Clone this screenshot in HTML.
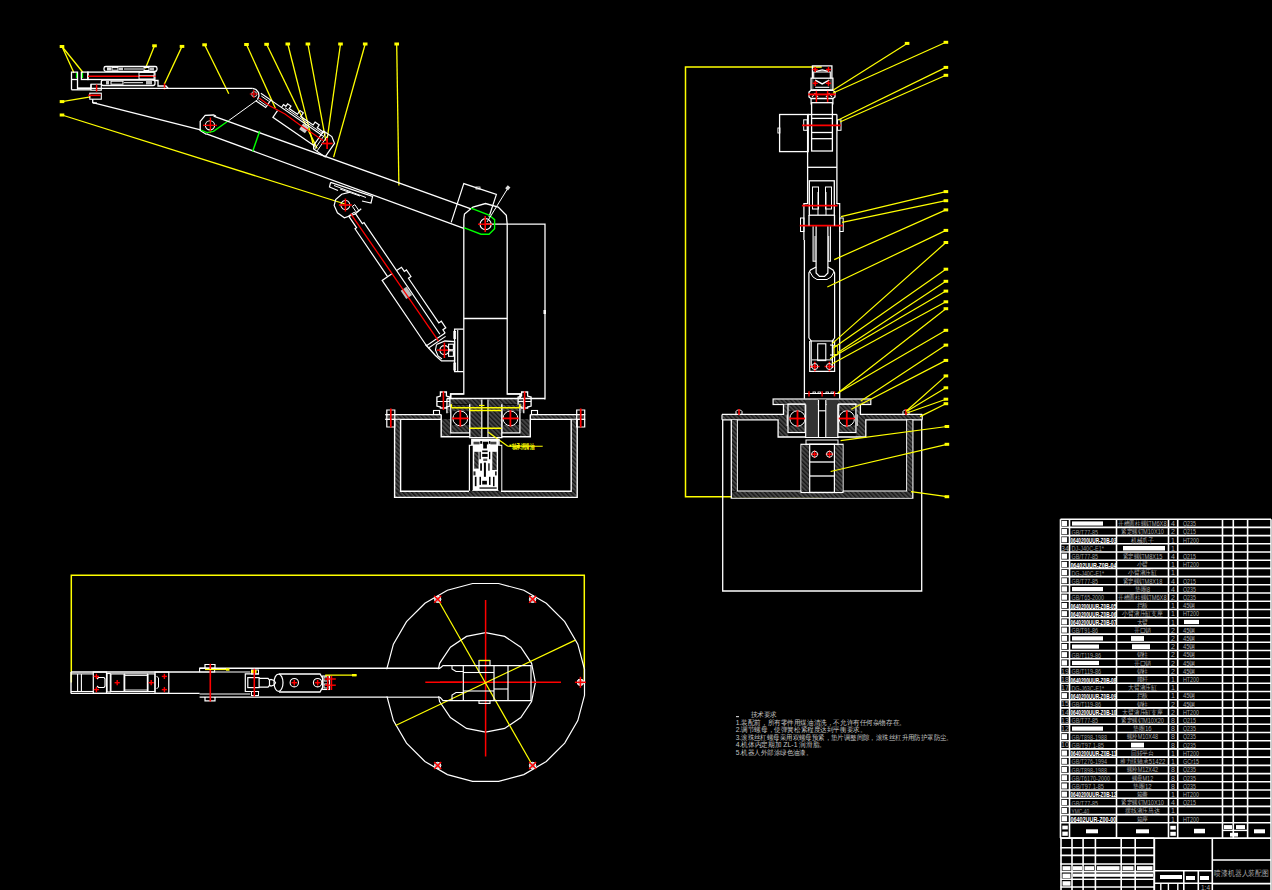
<!DOCTYPE html>
<html><head><meta charset="utf-8"><style>
html,body{margin:0;padding:0;background:#000;width:1272px;height:890px;overflow:hidden}
svg{display:block}
text{font-family:"Liberation Sans",sans-serif}
</style></head><body>
<svg width="1272" height="890" viewBox="0 0 1272 890" shape-rendering="geometricPrecision">
<defs><pattern id="hatch" patternUnits="userSpaceOnUse" width="3.2" height="3.2" patternTransform="rotate(-45)"><rect width="3.2" height="3.2" fill="#454545"/><rect width="1.3" height="3.2" fill="#161616"/></pattern></defs>
<rect width="1272" height="890" fill="#000"/>
<rect x="59.7" y="45.0" width="4.6" height="3.0" fill="#ffff00"/>
<rect x="152.2" y="44.3" width="4.6" height="3.0" fill="#ffff00"/>
<rect x="179.7" y="44.9" width="4.6" height="3.0" fill="#ffff00"/>
<rect x="202.3" y="43.3" width="4.6" height="3.0" fill="#ffff00"/>
<rect x="244.2" y="43.0" width="4.6" height="3.0" fill="#ffff00"/>
<rect x="264.3" y="42.8" width="4.6" height="3.0" fill="#ffff00"/>
<rect x="285.5" y="42.5" width="4.6" height="3.0" fill="#ffff00"/>
<rect x="305.6" y="42.5" width="4.6" height="3.0" fill="#ffff00"/>
<rect x="338.2" y="42.5" width="4.6" height="3.0" fill="#ffff00"/>
<rect x="362.9" y="42.5" width="4.6" height="3.0" fill="#ffff00"/>
<rect x="394.4" y="42.5" width="4.6" height="3.0" fill="#ffff00"/>
<line x1="62.0" y1="46.5" x2="74.0" y2="73.0" stroke="#ffff00" stroke-width="1.3"/>
<line x1="62.0" y1="46.5" x2="83.0" y2="72.5" stroke="#ffff00" stroke-width="1.3"/>
<line x1="154.5" y1="45.8" x2="145.4" y2="68.5" stroke="#ffff00" stroke-width="1.3"/>
<line x1="182.0" y1="46.4" x2="164.3" y2="84.3" stroke="#ffff00" stroke-width="1.3"/>
<line x1="204.6" y1="44.8" x2="228.8" y2="93.7" stroke="#ffff00" stroke-width="1.3"/>
<line x1="246.5" y1="44.5" x2="275.4" y2="108.3" stroke="#ffff00" stroke-width="1.3"/>
<line x1="266.6" y1="44.3" x2="317.1" y2="148.4" stroke="#ffff00" stroke-width="1.3"/>
<line x1="287.8" y1="44.0" x2="314.0" y2="147.7" stroke="#ffff00" stroke-width="1.3"/>
<line x1="307.9" y1="44.0" x2="325.8" y2="140.6" stroke="#ffff00" stroke-width="1.3"/>
<line x1="340.5" y1="44.0" x2="327.3" y2="138.2" stroke="#ffff00" stroke-width="1.3"/>
<line x1="365.2" y1="44.0" x2="333.6" y2="157.1" stroke="#ffff00" stroke-width="1.3"/>
<line x1="396.7" y1="44.0" x2="398.9" y2="185.4" stroke="#ffff00" stroke-width="1.3"/>
<line x1="62.0" y1="101.6" x2="90.4" y2="96.9" stroke="#ffff00" stroke-width="1.3"/>
<line x1="62.0" y1="115.0" x2="345.0" y2="204.0" stroke="#ffff00" stroke-width="1.3"/>
<rect x="59.7" y="100.1" width="4.6" height="3.0" fill="#ffff00"/>
<rect x="59.7" y="113.5" width="4.6" height="3.0" fill="#ffff00"/>
<polyline points="71.5,89.8 71.5,72.1 77.5,72.1 77.5,89.8" fill="none" stroke="#ffffff" stroke-width="1.3"/>
<line x1="71.5" y1="79.5" x2="77.5" y2="79.5" stroke="#ffffff" stroke-width="1.3"/>
<polyline points="77.5,88.2 91.0,88.2 91.0,84.2" fill="none" stroke="#ffffff" stroke-width="1.3"/>
<polyline points="71.5,89.8 91.0,89.8" fill="none" stroke="#ffffff" stroke-width="1.3"/>
<rect x="81.4" y="72.1" width="6.5" height="7.4" fill="none" stroke="#ffffff" stroke-width="1.3"/>
<line x1="76.5" y1="73.0" x2="76.5" y2="78.0" stroke="#00ff00" stroke-width="1.2"/>
<line x1="82.5" y1="73.0" x2="82.5" y2="78.0" stroke="#00ff00" stroke-width="1.2"/>
<rect x="87.9" y="72.1" width="67.0" height="7.4" fill="none" stroke="#ffffff" stroke-width="1.3"/>
<line x1="88.0" y1="76.3" x2="155.8" y2="76.3" stroke="#ff0000" stroke-width="1.6"/>
<rect x="104" y="66.5" width="53" height="4.8" rx="1.8" fill="none" stroke="#fff" stroke-width="1.3"/>
<rect x="107.0" y="67.3" width="4.0" height="3.2" fill="#ddd" stroke="#ffffff" stroke-width="0"/>
<rect x="112.0" y="67.6" width="6.0" height="2.6" fill="none" stroke="#ffffff" stroke-width="1.0"/>
<rect x="119.0" y="67.6" width="4.0" height="2.6" fill="#ccc" stroke="#ffffff" stroke-width="0"/>
<line x1="124.0" y1="69.0" x2="143.0" y2="69.0" stroke="#ffffff" stroke-width="1.0"/>
<rect x="144.0" y="67.5" width="5.0" height="3.0" fill="none" stroke="#ffffff" stroke-width="1.0"/>
<rect x="150.0" y="67.5" width="4.0" height="3.0" fill="#bbb" stroke="#ffffff" stroke-width="0"/>
<rect x="101.3" y="80" width="53.7" height="5.5" rx="2" fill="none" stroke="#fff" stroke-width="1.3"/>
<rect x="106.0" y="81.0" width="3.0" height="3.5" fill="#ccc" stroke="#ffffff" stroke-width="0"/>
<rect x="111.0" y="81.2" width="12.0" height="3.0" fill="none" stroke="#ffffff" stroke-width="1.0"/>
<line x1="124.0" y1="82.7" x2="143.0" y2="82.7" stroke="#ffffff" stroke-width="1.0"/>
<rect x="146.0" y="81.0" width="6.0" height="3.5" fill="#bbb" stroke="#ffffff" stroke-width="0"/>
<line x1="155.0" y1="71.2" x2="156.7" y2="71.2" stroke="#ffffff" stroke-width="1.0"/>
<rect x="139.0" y="72.5" width="15.0" height="6.5" fill="none" stroke="#ffffff" stroke-width="0.9"/>
<line x1="139.0" y1="75.5" x2="154.0" y2="75.5" stroke="#ffffff" stroke-width="0.6"/>
<polyline points="155.0,80.5 158.0,80.5 158.0,86.0 166.0,86.0 168.0,88.3" fill="none" stroke="#ffffff" stroke-width="1.3"/>
<line x1="164.5" y1="83.5" x2="164.5" y2="89.5" stroke="#ff0000" stroke-width="1.5"/>
<line x1="77.5" y1="88.3" x2="252.6" y2="88.3" stroke="#ffffff" stroke-width="1.3"/>
<rect x="91.0" y="84.2" width="10.3" height="6.0" fill="none" stroke="#ffffff" stroke-width="1.1"/>
<rect x="89.8" y="93.2" width="11.5" height="6.0" fill="none" stroke="#ffffff" stroke-width="1.1"/>
<line x1="96.6" y1="84.5" x2="96.6" y2="91.6" stroke="#ff0000" stroke-width="1.5"/>
<line x1="88.3" y1="95.3" x2="100.5" y2="95.3" stroke="#ff0000" stroke-width="1.6"/>
<line x1="92.7" y1="99.2" x2="92.7" y2="103.0" stroke="#ffffff" stroke-width="1.3"/>
<line x1="92.7" y1="103.0" x2="97.0" y2="103.0" stroke="#ffffff" stroke-width="1.3"/>
<line x1="92.7" y1="102.6" x2="200.5" y2="129.9" stroke="#ffffff" stroke-width="1.3"/>
<polyline points="252.6,88.3 256.0,89.5 258.5,92.5 259.0,96.0 257.5,99.5" fill="none" stroke="#ffffff" stroke-width="1.3"/>
<circle cx="254.2" cy="94.2" r="2.6" fill="none" stroke="#ffffff" stroke-width="0.8"/>
<polyline points="200.2,131.0 200.2,121.4 205.2,115.3 213.5,115.0 216.0,116.0" fill="none" stroke="#ffffff" stroke-width="1.3"/>
<line x1="200.2" y1="130.5" x2="206.5" y2="134.5" stroke="#ffffff" stroke-width="1.2"/>
<circle cx="210.0" cy="125.3" r="4.6" fill="none" stroke="#ffffff" stroke-width="1.1"/>
<line x1="203.0" y1="125.3" x2="217.0" y2="125.3" stroke="#ff0000" stroke-width="1.3"/>
<line x1="210.4" y1="117.5" x2="210.4" y2="133.0" stroke="#ff0000" stroke-width="1.4"/>
<polyline points="201.0,130.2 207.0,132.6 213.5,131.4 228.8,120.5" fill="none" stroke="#00ff00" stroke-width="1.4"/>
<line x1="228.8" y1="120.5" x2="257.5" y2="99.8" stroke="#ffffff" stroke-width="1.0"/>
<line x1="213.6" y1="116.2" x2="471.0" y2="208.9" stroke="#ffffff" stroke-width="1.3"/>
<line x1="206.5" y1="133.9" x2="463.8" y2="228.3" stroke="#ffffff" stroke-width="1.3"/>
<line x1="259.7" y1="131.0" x2="252.6" y2="151.6" stroke="#00ff00" stroke-width="1.4"/>
<g transform="translate(254.2,94.2) rotate(34.5)">
<polyline points="5.0,-4.5 17.0,-4.5 17.0,4.5 5.0,4.5" fill="none" stroke="#ffffff" stroke-width="1.2"/>
<line x1="7.0" y1="-2.5" x2="16.0" y2="-2.5" stroke="#ffffff" stroke-width="0.9"/>
<line x1="7.0" y1="2.5" x2="16.0" y2="2.5" stroke="#ffffff" stroke-width="0.9"/>
<line x1="17.0" y1="-4.5" x2="80.0" y2="-4.5" stroke="#ffffff" stroke-width="1.2"/>
<polyline points="28.5,0.3 28.5,8.5 80.0,8.5" fill="none" stroke="#ffffff" stroke-width="1.2"/>
<polyline points="30.0,-4.5 30.0,-8.0 33.0,-8.0 33.0,-11.0 37.0,-11.0 37.0,-8.0 47.0,-8.0 47.0,-12.5 51.0,-12.5 51.0,-8.0 66.0,-8.0 66.0,-11.5 71.0,-11.5 71.0,-8.0 80.0,-8.0" fill="none" stroke="#ffffff" stroke-width="1.2"/>
<line x1="33.0" y1="-6.3" x2="79.0" y2="-6.3" stroke="#ffffff" stroke-width="0.9"/>
<polygon points="78.0,-9.0 88.0,-9.0 94.0,-5.0 94.0,11.5 80.0,11.5 78.0,8.5" fill="none" stroke="#ffffff" stroke-width="1.2"/>
<line x1="81.0" y1="-8.0" x2="81.0" y2="11.0" stroke="#ffffff" stroke-width="0.9"/>
<line x1="84.0" y1="-8.0" x2="84.0" y2="11.0" stroke="#ffffff" stroke-width="0.9"/>
<rect x="57.0" y="-3.5" width="7.0" height="7.0" fill="#ccc" stroke="#ffffff" stroke-width="0"/>
</g>
<polyline points="259.2,98.0 270.0,106.0 285.0,114.0 300.0,125.0 312.0,133.0 323.5,140.8" fill="none" stroke="#ff0000" stroke-width="1.2"/>
<line x1="321.6" y1="143.5" x2="332.6" y2="143.5" stroke="#ff0000" stroke-width="1.7"/>
<line x1="327.1" y1="138.0" x2="327.1" y2="149.0" stroke="#ff0000" stroke-width="1.7"/>
<line x1="249.8" y1="94.0" x2="257.8" y2="94.0" stroke="#ff0000" stroke-width="1.1"/>
<line x1="253.8" y1="90.0" x2="253.8" y2="98.0" stroke="#ff0000" stroke-width="1.1"/>
<g transform="translate(345.4,205) rotate(55.8)">
<polyline points="-8.0,-11.0 -11.0,-3.0 -10.0,5.0 -6.0,9.5 2.0,11.0 10.0,8.0 13.0,-3.0 12.0,-11.0" fill="none" stroke="#ffffff" stroke-width="1.2"/>
<circle cx="0.0" cy="0.0" r="4.5" fill="none" stroke="#ffffff" stroke-width="1.0"/>
<rect x="5.0" y="-8.0" width="7.0" height="3.0" fill="none" stroke="#ffffff" stroke-width="0.9"/>
<polyline points="11.0,3.5 25.0,3.5 25.0,5.4 83.0,5.4" fill="none" stroke="#ffffff" stroke-width="1.2"/>
<polyline points="11.0,-3.5 25.0,-3.5 25.0,-5.5 160.0,-5.5" fill="none" stroke="#ffffff" stroke-width="1.2"/>
<line x1="11.0" y1="-3.5" x2="11.0" y2="3.5" stroke="#ffffff" stroke-width="1.1"/>
<polyline points="83.0,-0.3 83.0,12.0 162.0,12.0 162.0,-10.5" fill="none" stroke="#ffffff" stroke-width="1.2"/>
<polyline points="83.0,-5.5 83.0,-11.4 88.0,-11.4 88.0,-14.0 96.0,-14.0 96.0,-11.0 150.0,-11.0 150.0,-14.0 158.0,-14.0 158.0,-10.5 162.0,-10.5" fill="none" stroke="#ffffff" stroke-width="1.2"/>
<line x1="165.0" y1="12.0" x2="165.0" y2="-9.0" stroke="#ffffff" stroke-width="1.1"/>
<rect x="102.0" y="-4.5" width="10.0" height="7.0" fill="#bbb" stroke="#ffffff" stroke-width="0"/>
<line x1="10.0" y1="0.5" x2="165.0" y2="-0.5" stroke="#ff0000" stroke-width="1.3"/>
</g>
<line x1="338.9" y1="205.0" x2="351.9" y2="205.0" stroke="#ff0000" stroke-width="1.6"/>
<line x1="345.4" y1="198.5" x2="345.4" y2="211.5" stroke="#ff0000" stroke-width="1.6"/>
<polyline points="330.6,182.4 372.6,196.4 371.0,203.0 362.0,201.0" fill="none" stroke="#ffffff" stroke-width="1.2"/>
<polyline points="330.6,182.4 329.5,187.0 338.0,190.5" fill="none" stroke="#ffffff" stroke-width="1.2"/>
<line x1="334.0" y1="185.5" x2="366.0" y2="197.5" stroke="#ffffff" stroke-width="1.0"/>
<line x1="340.0" y1="189.0" x2="360.0" y2="196.0" stroke="#ffffff" stroke-width="1.0"/>
<polyline points="425.5,344.5 435.2,355.3 441.4,360.9 454.6,360.9 454.6,341.5 444.9,341.0 436.5,344.5" fill="none" stroke="#ffffff" stroke-width="1.3"/>
<polyline points="436.5,344.5 435.5,350.0 438.0,356.0 442.0,359.0" fill="none" stroke="#ffffff" stroke-width="1.1"/>
<circle cx="444.4" cy="350.1" r="4.5" fill="none" stroke="#ffffff" stroke-width="1.2"/>
<line x1="437.0" y1="350.1" x2="451.0" y2="350.1" stroke="#ff0000" stroke-width="1.5"/>
<line x1="444.4" y1="342.5" x2="444.4" y2="358.0" stroke="#ff0000" stroke-width="1.6"/>
<rect x="448.6" y="344.2" width="4.8" height="5.5" fill="none" stroke="#ffffff" stroke-width="1.1"/>
<rect x="448.6" y="350.8" width="4.8" height="5.5" fill="none" stroke="#ffffff" stroke-width="1.1"/>
<polyline points="463.5,329.2 454.6,329.2 454.6,371.6 463.5,371.6" fill="none" stroke="#ffffff" stroke-width="1.3"/>
<line x1="457.7" y1="330.0" x2="457.7" y2="371.0" stroke="#ffffff" stroke-width="1.1"/>
<rect x="453.8" y="331.5" width="1.8" height="7.0" fill="none" stroke="#ffffff" stroke-width="0.9"/>
<rect x="453.8" y="363.0" width="1.8" height="7.0" fill="none" stroke="#ffffff" stroke-width="0.9"/>
<polyline points="463.8,218.8 464.5,214.0 472.9,207.0 485.5,203.5 498.2,207.0 506.3,215.2 507.2,224.2 507.2,394.0 520.0,394.0 520.0,398.5" fill="none" stroke="#ffffff" stroke-width="1.3"/>
<polyline points="463.8,218.8 463.8,394.0 450.5,394.0 450.5,398.5" fill="none" stroke="#ffffff" stroke-width="1.3"/>
<polyline points="486.0,224.2 545.0,224.2 545.0,399.5" fill="none" stroke="#ffffff" stroke-width="1.3"/>
<line x1="463.8" y1="318.5" x2="507.2" y2="318.5" stroke="#ffffff" stroke-width="1.3"/>
<rect x="543.5" y="310.0" width="2.5" height="4.0" fill="#ffffff"/>
<polyline points="451.2,222.4 463.8,183.6 496.4,194.4 489.0,217.0" fill="none" stroke="#ffffff" stroke-width="1.2"/>
<rect x="476.0" y="187.0" width="4.0" height="2.0" fill="none" stroke="#ffffff" stroke-width="0.8"/>
<polyline points="471.0,208.2 489.0,215.0 494.6,219.7 494.6,228.8 489.0,234.2 481.0,234.2 463.8,227.6" fill="none" stroke="#00ff00" stroke-width="1.4"/>
<circle cx="485.6" cy="224.2" r="5.5" fill="none" stroke="#ffffff" stroke-width="1.2"/>
<line x1="478.0" y1="224.2" x2="492.0" y2="224.2" stroke="#ff0000" stroke-width="1.4"/>
<line x1="485.2" y1="216.0" x2="485.2" y2="232.0" stroke="#ff0000" stroke-width="1.6"/>
<line x1="487.0" y1="222.0" x2="508.0" y2="188.0" stroke="#ffffff" stroke-width="1.0"/>
<rect x="506" y="186" width="4" height="3.5" fill="#ddd" transform="rotate(-50 508 188)"/>
<polyline points="463.5,393.9 450.8,393.9 450.8,398.6" fill="none" stroke="#ffffff" stroke-width="1.4"/>
<polyline points="507.3,393.9 520.4,393.9 520.4,398.6" fill="none" stroke="#ffffff" stroke-width="1.4"/>
<rect x="447.0" y="399.0" width="34.0" height="5.0" fill="url(#hatch)"/>
<rect x="489.0" y="399.0" width="35.0" height="5.0" fill="url(#hatch)"/>
<rect x="447.0" y="399.0" width="4.0" height="14.0" fill="url(#hatch)"/>
<rect x="520.0" y="399.0" width="4.0" height="14.0" fill="url(#hatch)"/>
<line x1="446.9" y1="398.6" x2="545.0" y2="398.6" stroke="#ffffff" stroke-width="1.5"/>
<polyline points="446.9,398.6 446.9,413.3" fill="none" stroke="#ffffff" stroke-width="1.2"/>
<polyline points="523.8,398.6 523.8,413.3" fill="none" stroke="#ffffff" stroke-width="1.2"/>
<polygon points="436.9,397.0 440.4,396.0 440.4,392.0 446.4,392.0 446.4,396.0 449.9,397.0 449.9,406.0 446.4,407.0 446.4,408.0 440.4,408.0 440.4,407.0 436.9,406.0" fill="none" stroke="#ffffff" stroke-width="1.3"/>
<line x1="436.9" y1="401.5" x2="449.9" y2="401.5" stroke="#ffffff" stroke-width="1.0"/>
<line x1="443.4" y1="391.3" x2="443.4" y2="409.9" stroke="#ff0000" stroke-width="1.6"/>
<polygon points="518.1,397.0 521.6,396.0 521.6,392.0 527.6,392.0 527.6,396.0 531.1,397.0 531.1,406.0 527.6,407.0 527.6,408.0 521.6,408.0 521.6,407.0 518.1,406.0" fill="none" stroke="#ffffff" stroke-width="1.3"/>
<line x1="518.1" y1="401.5" x2="531.1" y2="401.5" stroke="#ffffff" stroke-width="1.0"/>
<line x1="524.6" y1="391.3" x2="524.6" y2="409.9" stroke="#ff0000" stroke-width="1.6"/>
<rect x="385.5" y="414.8" width="56.0" height="4.6" fill="url(#hatch)"/>
<rect x="530.0" y="414.8" width="55.0" height="4.6" fill="url(#hatch)"/>
<polyline points="385.2,414.6 441.2,414.6" fill="none" stroke="#ffffff" stroke-width="1.4"/>
<polyline points="385.2,419.4 441.2,419.4" fill="none" stroke="#ffffff" stroke-width="1.2"/>
<polyline points="530.3,414.6 585.2,414.6" fill="none" stroke="#ffffff" stroke-width="1.4"/>
<polyline points="530.3,419.4 585.2,419.4" fill="none" stroke="#ffffff" stroke-width="1.2"/>
<rect x="433.5" y="410.5" width="6.0" height="4.0" fill="none" stroke="#ffffff" stroke-width="1.1"/>
<rect x="531.5" y="410.5" width="6.0" height="4.0" fill="none" stroke="#ffffff" stroke-width="1.1"/>
<rect x="441.5" y="419.0" width="9.3" height="17.5" fill="url(#hatch)"/>
<rect x="520.3" y="419.0" width="10.0" height="17.5" fill="url(#hatch)"/>
<polyline points="441.2,414.6 441.2,436.7 469.8,436.7" fill="none" stroke="#ffffff" stroke-width="1.4"/>
<polyline points="530.3,414.6 530.3,436.7 501.8,436.7" fill="none" stroke="#ffffff" stroke-width="1.4"/>
<polyline points="450.8,404.3 450.8,432.8 469.8,432.8 469.8,404.3" fill="none" stroke="#ffffff" stroke-width="1.3"/>
<rect x="451.8" y="404.8" width="17.0" height="6.5" fill="url(#hatch)"/>
<rect x="451.8" y="425.0" width="17.0" height="7.0" fill="url(#hatch)"/>
<circle cx="460.3" cy="418.4" r="7.4" fill="none" stroke="#ffffff" stroke-width="1.0"/>
<line x1="452.1" y1="418.4" x2="468.5" y2="418.4" stroke="#ff0000" stroke-width="1.8"/>
<line x1="460.3" y1="410.2" x2="460.3" y2="426.6" stroke="#ff0000" stroke-width="1.8"/>
<polyline points="501.8,404.3 501.8,432.8 519.9,432.8 519.9,404.3" fill="none" stroke="#ffffff" stroke-width="1.3"/>
<rect x="502.8" y="404.8" width="16.1" height="6.5" fill="url(#hatch)"/>
<rect x="502.8" y="425.0" width="16.1" height="7.0" fill="url(#hatch)"/>
<circle cx="510.4" cy="418.4" r="7.4" fill="none" stroke="#ffffff" stroke-width="1.0"/>
<line x1="502.2" y1="418.4" x2="518.6" y2="418.4" stroke="#ff0000" stroke-width="1.8"/>
<line x1="510.4" y1="410.2" x2="510.4" y2="426.6" stroke="#ff0000" stroke-width="1.8"/>
<rect x="470.0" y="399.5" width="11.0" height="38.0" fill="url(#hatch)"/>
<rect x="489.2" y="399.5" width="12.5" height="38.0" fill="url(#hatch)"/>
<polyline points="469.8,404.3 469.8,437.6 501.8,437.6 501.8,404.3" fill="none" stroke="#ffffff" stroke-width="1.3"/>
<line x1="481.8" y1="399.5" x2="481.8" y2="437.6" stroke="#ffffff" stroke-width="1.2"/>
<line x1="488.0" y1="399.5" x2="488.0" y2="437.6" stroke="#ffffff" stroke-width="1.2"/>
<line x1="451.5" y1="407.7" x2="519.8" y2="407.7" stroke="#ffff00" stroke-width="1.5"/>
<line x1="451.5" y1="404.2" x2="451.5" y2="407.7" stroke="#ffff00" stroke-width="1.3"/>
<line x1="519.8" y1="404.2" x2="519.8" y2="407.7" stroke="#ffff00" stroke-width="1.3"/>
<line x1="469.5" y1="410.5" x2="501.5" y2="410.5" stroke="#ffff00" stroke-width="1.4"/>
<line x1="479.0" y1="405.5" x2="484.5" y2="405.5" stroke="#ffff00" stroke-width="1.2"/>
<line x1="469.5" y1="428.3" x2="501.5" y2="428.3" stroke="#ffff00" stroke-width="1.6"/>
<line x1="488.0" y1="432.0" x2="507.8" y2="446.2" stroke="#ffff00" stroke-width="1.1"/>
<line x1="507.8" y1="446.2" x2="542.7" y2="446.2" stroke="#ffff00" stroke-width="1.1"/>
<rect x="509.5" y="444.6" width="2.0" height="2.0" fill="#ffff00"/>
<text x="511.5" y="449.0" font-size="7" fill="#ffff00" text-anchor="start" font-weight="bold" textLength="23" lengthAdjust="spacingAndGlyphs">轴承润滑油</text>
<rect x="395.0" y="419.8" width="5.3" height="71.0" fill="url(#hatch)"/>
<rect x="571.7" y="419.8" width="5.0" height="71.0" fill="url(#hatch)"/>
<rect x="395.0" y="491.2" width="181.7" height="6.0" fill="url(#hatch)"/>
<polyline points="394.6,419.4 394.6,497.4 577.2,497.4 577.2,419.4" fill="none" stroke="#ffffff" stroke-width="1.4"/>
<polyline points="400.6,419.4 400.6,491.2 469.0,491.2" fill="none" stroke="#ffffff" stroke-width="1.4"/>
<polyline points="571.2,419.4 571.2,491.2 501.0,491.2" fill="none" stroke="#ffffff" stroke-width="1.4"/>
<polygon points="386.8,410.0 394.8,410.0 394.8,427.0 386.8,427.0" fill="none" stroke="#ffffff" stroke-width="1.2"/>
<line x1="386.8" y1="414.6" x2="394.8" y2="414.6" stroke="#ffffff" stroke-width="1.0"/>
<line x1="386.8" y1="419.4" x2="394.8" y2="419.4" stroke="#ffffff" stroke-width="1.0"/>
<line x1="390.8" y1="408.5" x2="390.8" y2="427.5" stroke="#ff0000" stroke-width="1.7"/>
<polygon points="576.7,410.0 584.7,410.0 584.7,427.0 576.7,427.0" fill="none" stroke="#ffffff" stroke-width="1.2"/>
<line x1="576.7" y1="414.6" x2="584.7" y2="414.6" stroke="#ffffff" stroke-width="1.0"/>
<line x1="576.7" y1="419.4" x2="584.7" y2="419.4" stroke="#ffffff" stroke-width="1.0"/>
<line x1="580.7" y1="408.5" x2="580.7" y2="427.5" stroke="#ff0000" stroke-width="1.7"/>
<polyline points="469.5,490.8 469.5,445.5 471.8,445.5 471.8,439.5 499.0,439.5 499.0,445.5 501.6,445.5 501.6,490.8" fill="none" stroke="#ffffff" stroke-width="1.4"/>
<rect x="472.1" y="439.7" width="26.6" height="51.2" fill="#fff"/>
<rect x="470.1" y="445.8" width="2.6" height="44.5" fill="#000"/>
<rect x="498.1" y="445.8" width="3.2" height="44.5" fill="#000"/>
<rect x="473.5" y="441.7" width="6.1" height="2.7" fill="#444"/>
<rect x="490.3" y="441.7" width="6.1" height="2.7" fill="#444"/>
<rect x="480.2" y="441.1" width="2.0" height="2.7" fill="#000"/>
<rect x="489.0" y="441.1" width="1.3" height="2.7" fill="#000"/>
<rect x="482.9" y="441.7" width="5.4" height="2.7" fill="#000"/>
<rect x="483.2" y="443.8" width="3.7" height="4.7" fill="#000"/>
<rect x="474.2" y="451.8" width="4.4" height="16.8" fill="url(#hatch)"/>
<rect x="492.3" y="451.8" width="4.4" height="18.2" fill="url(#hatch)"/>
<rect x="482.2" y="450.5" width="5.4" height="1.7" fill="#000"/>
<rect x="482.2" y="453.9" width="5.4" height="3.0" fill="#000"/>
<rect x="483.2" y="458.6" width="4.0" height="2.4" fill="#555"/>
<rect x="479.5" y="451.8" width="1.3" height="7.4" fill="#000"/>
<rect x="489.0" y="451.8" width="1.3" height="7.4" fill="#000"/>
<rect x="480.2" y="463.3" width="1.7" height="7.4" fill="#000"/>
<rect x="488.3" y="463.3" width="1.3" height="7.4" fill="#000"/>
<rect x="483.9" y="462.6" width="2.0" height="14.2" fill="#000"/>
<rect x="474.8" y="476.8" width="1.7" height="9.4" fill="#000"/>
<rect x="479.5" y="476.8" width="1.5" height="8.1" fill="#000"/>
<rect x="489.0" y="476.8" width="1.5" height="8.1" fill="#000"/>
<rect x="493.0" y="476.8" width="1.5" height="9.4" fill="#000"/>
<rect x="482.2" y="480.8" width="4.7" height="3.7" fill="#000"/>
<rect x="479.5" y="487.2" width="17.2" height="1.7" fill="#444"/>
<rect x="473.5" y="471.4" width="2.0" height="4.0" fill="#222"/>
<rect x="495.0" y="471.4" width="1.7" height="4.0" fill="#222"/>
<polyline points="821.7,66.9 685.5,66.9 685.5,496.7 822.0,496.7" fill="none" stroke="#ffff00" stroke-width="1.5"/>
<polyline points="812.4,78.2 812.4,65.8 831.9,65.8 831.9,78.2" fill="none" stroke="#ffffff" stroke-width="1.3"/>
<polyline points="813.7,78.2 813.7,72.0 830.3,72.0 830.3,78.2" fill="none" stroke="#ffffff" stroke-width="1.1"/>
<polyline points="815.2,71.6 822.2,69.8 829.3,71.6" fill="none" stroke="#ffffff" stroke-width="1.3"/>
<rect x="811.1" y="78.2" width="21.8" height="11.6" fill="none" stroke="#ffffff" stroke-width="1.3"/>
<rect x="811.8" y="79.0" width="1.6" height="10.2" fill="#555"/>
<rect x="830.3" y="79.0" width="1.6" height="10.2" fill="#555"/>
<polyline points="815.2,80.2 822.2,83.8 829.3,80.2" fill="none" stroke="#ffffff" stroke-width="1.5"/>
<line x1="815.2" y1="87.3" x2="829.3" y2="87.3" stroke="#ffffff" stroke-width="1.1"/>
<polygon points="811.1,90.3 809.0,92.0 809.0,97.0 811.1,98.5 832.9,98.5 835.0,97.0 835.0,92.0 832.9,90.3" fill="none" stroke="#ffffff" stroke-width="1.3"/>
<polyline points="812.0,97.0 815.0,93.5 818.0,97.0" fill="none" stroke="#ffffff" stroke-width="1.1"/>
<polyline points="826.0,97.0 829.0,93.5 832.0,97.0" fill="none" stroke="#ffffff" stroke-width="1.1"/>
<line x1="812.6" y1="69.5" x2="817.8" y2="69.5" stroke="#ff0000" stroke-width="1.5"/>
<line x1="815.2" y1="66.9" x2="815.2" y2="72.1" stroke="#ff0000" stroke-width="1.5"/>
<line x1="825.9" y1="69.5" x2="831.1" y2="69.5" stroke="#ff0000" stroke-width="1.5"/>
<line x1="828.5" y1="66.9" x2="828.5" y2="72.1" stroke="#ff0000" stroke-width="1.5"/>
<line x1="812.6" y1="83.3" x2="817.8" y2="83.3" stroke="#ff0000" stroke-width="1.5"/>
<line x1="815.2" y1="80.7" x2="815.2" y2="85.9" stroke="#ff0000" stroke-width="1.5"/>
<line x1="825.9" y1="83.3" x2="831.1" y2="83.3" stroke="#ff0000" stroke-width="1.5"/>
<line x1="828.5" y1="80.7" x2="828.5" y2="85.9" stroke="#ff0000" stroke-width="1.5"/>
<line x1="816.4" y1="90.8" x2="816.4" y2="102.0" stroke="#ff0000" stroke-width="1.5"/>
<line x1="827.6" y1="90.8" x2="827.6" y2="102.0" stroke="#ff0000" stroke-width="1.5"/>
<line x1="808.2" y1="94.4" x2="835.7" y2="94.4" stroke="#ff0000" stroke-width="1.9"/>
<polyline points="811.1,98.5 811.1,104.5" fill="none" stroke="#ffffff" stroke-width="1.2"/>
<polyline points="832.9,98.5 832.9,104.5" fill="none" stroke="#ffffff" stroke-width="1.2"/>
<rect x="811.6" y="102.7" width="20.8" height="48.3" fill="none" stroke="#ffffff" stroke-width="1.3"/>
<line x1="811.6" y1="118.4" x2="832.4" y2="118.4" stroke="#ffffff" stroke-width="1.3"/>
<line x1="811.6" y1="132.5" x2="832.4" y2="132.5" stroke="#ffffff" stroke-width="1.3"/>
<line x1="811.6" y1="138.7" x2="832.4" y2="138.7" stroke="#ffffff" stroke-width="1.3"/>
<rect x="779.6" y="114.5" width="28.6" height="37.1" fill="none" stroke="#ffffff" stroke-width="1.3"/>
<rect x="777.9" y="128.0" width="2.0" height="5.0" fill="none" stroke="#ffffff" stroke-width="0.9"/>
<line x1="807.6" y1="114.5" x2="807.6" y2="204.0" stroke="#ffffff" stroke-width="1.3"/>
<line x1="836.9" y1="114.5" x2="836.9" y2="204.0" stroke="#ffffff" stroke-width="1.3"/>
<line x1="807.6" y1="114.5" x2="836.9" y2="114.5" stroke="#ffffff" stroke-width="1.3"/>
<rect x="803.7" y="119.8" width="3.5" height="10.5" fill="none" stroke="#ffffff" stroke-width="1.0"/>
<rect x="837.5" y="119.8" width="3.5" height="10.5" fill="none" stroke="#ffffff" stroke-width="1.0"/>
<line x1="802.0" y1="125.4" x2="840.8" y2="125.4" stroke="#ff0000" stroke-width="1.7"/>
<line x1="807.6" y1="167.3" x2="836.9" y2="167.3" stroke="#ffffff" stroke-width="1.3"/>
<rect x="809.3" y="180.8" width="25.0" height="34.4" fill="none" stroke="#ffffff" stroke-width="1.3"/>
<rect x="812.5" y="187.0" width="6.0" height="22.0" fill="none" stroke="#ffffff" stroke-width="1.0"/>
<rect x="825.5" y="187.0" width="6.0" height="22.0" fill="none" stroke="#ffffff" stroke-width="1.0"/>
<line x1="818.0" y1="192.0" x2="818.0" y2="215.0" stroke="#ffffff" stroke-width="1.0"/>
<line x1="826.0" y1="192.0" x2="826.0" y2="215.0" stroke="#ffffff" stroke-width="1.0"/>
<polyline points="803.9,240.0 803.9,203.7 807.6,203.7" fill="none" stroke="#ffffff" stroke-width="1.2"/>
<polyline points="839.7,240.0 839.7,203.7 836.9,203.7" fill="none" stroke="#ffffff" stroke-width="1.2"/>
<rect x="800.5" y="218.0" width="3.5" height="13.5" fill="none" stroke="#ffffff" stroke-width="1.0"/>
<rect x="839.7" y="218.0" width="3.5" height="13.5" fill="none" stroke="#ffffff" stroke-width="1.0"/>
<line x1="801.9" y1="205.7" x2="837.6" y2="205.7" stroke="#ff0000" stroke-width="1.7"/>
<line x1="799.8" y1="225.6" x2="843.0" y2="225.6" stroke="#ff0000" stroke-width="1.7"/>
<line x1="809.0" y1="225.6" x2="809.0" y2="215.0" stroke="#ffffff" stroke-width="1.3"/>
<line x1="834.5" y1="225.6" x2="834.5" y2="215.0" stroke="#ffffff" stroke-width="1.3"/>
<line x1="804.4" y1="240.0" x2="804.4" y2="398.7" stroke="#ffffff" stroke-width="1.3"/>
<line x1="839.7" y1="240.0" x2="839.7" y2="398.7" stroke="#ffffff" stroke-width="1.3"/>
<polyline points="813.1,226.5 813.1,261.2 816.1,261.2" fill="none" stroke="#ffffff" stroke-width="1.1"/>
<polyline points="830.4,226.5 830.4,261.2 827.9,261.2" fill="none" stroke="#ffffff" stroke-width="1.1"/>
<line x1="815.0" y1="236.0" x2="815.0" y2="261.0" stroke="#ffffff" stroke-width="0.9"/>
<line x1="828.7" y1="236.0" x2="828.7" y2="261.0" stroke="#ffffff" stroke-width="0.9"/>
<polyline points="816.1,226.5 816.1,273.0 819.5,276.4 824.5,276.4 827.9,273.0 827.9,226.5" fill="none" stroke="#ffffff" stroke-width="1.2"/>
<polyline points="808.9,338.0 808.9,273.0 810.5,270.0 815.2,267.5 816.1,267.0" fill="none" stroke="#ffffff" stroke-width="1.2"/>
<polyline points="834.6,338.0 834.6,273.0 833.0,270.0 828.8,267.5 827.9,267.0" fill="none" stroke="#ffffff" stroke-width="1.2"/>
<polyline points="810.0,272.0 813.0,277.0 817.0,279.5 827.0,279.5 831.0,277.0 834.0,272.0" fill="none" stroke="#ffffff" stroke-width="1.0"/>
<polyline points="808.9,338.0 811.2,341.0 811.2,368.0" fill="none" stroke="#ffffff" stroke-width="1.2"/>
<polyline points="834.6,338.0 832.4,341.0 832.4,368.0" fill="none" stroke="#ffffff" stroke-width="1.2"/>
<polyline points="809.7,341.0 809.7,371.4 834.6,371.4 834.6,341.0" fill="none" stroke="#ffffff" stroke-width="1.2"/>
<line x1="810.0" y1="341.0" x2="834.5" y2="341.0" stroke="#ffffff" stroke-width="1.1"/>
<rect x="817.7" y="343.8" width="8.1" height="16.8" fill="none" stroke="#ffffff" stroke-width="1.1"/>
<line x1="812.0" y1="359.9" x2="833.0" y2="359.9" stroke="#ffffff" stroke-width="1.0"/>
<polyline points="830.0,345.0 833.8,345.3 834.0,355.0 830.0,355.0" fill="none" stroke="#ffffff" stroke-width="1.0"/>
<rect x="833.8" y="345.3" width="4.0" height="10.0" fill="#ffff00"/>
<rect x="834.6" y="346.5" width="2.5" height="7.5" fill="#000"/>
<line x1="810.0" y1="366.5" x2="819.6" y2="366.5" stroke="#ff0000" stroke-width="1.6"/>
<line x1="814.8" y1="361.7" x2="814.8" y2="371.3" stroke="#ff0000" stroke-width="1.6"/>
<line x1="824.6" y1="366.5" x2="834.2" y2="366.5" stroke="#ff0000" stroke-width="1.6"/>
<line x1="829.4" y1="361.7" x2="829.4" y2="371.3" stroke="#ff0000" stroke-width="1.6"/>
<circle cx="814.8" cy="366.5" r="3.0" fill="none" stroke="#ffffff" stroke-width="0.9"/>
<circle cx="829.4" cy="366.5" r="3.0" fill="none" stroke="#ffffff" stroke-width="0.9"/>
<line x1="804.4" y1="393.5" x2="839.7" y2="393.5" stroke="#ffffff" stroke-width="1.2"/>
<line x1="809.0" y1="391.3" x2="809.0" y2="396.4" stroke="#ff0000" stroke-width="1.5"/>
<line x1="822.1" y1="391.3" x2="822.1" y2="396.4" stroke="#ff0000" stroke-width="1.5"/>
<line x1="834.5" y1="391.3" x2="834.5" y2="396.4" stroke="#ff0000" stroke-width="1.5"/>
<rect x="813.0" y="392.0" width="2.5" height="1.5" fill="none" stroke="#ffffff" stroke-width="0.8"/>
<rect x="818.0" y="392.0" width="2.5" height="1.5" fill="none" stroke="#ffffff" stroke-width="0.8"/>
<rect x="826.0" y="392.0" width="2.5" height="1.5" fill="none" stroke="#ffffff" stroke-width="0.8"/>
<rect x="831.0" y="392.0" width="2.5" height="1.5" fill="none" stroke="#ffffff" stroke-width="0.8"/>
<rect x="773.5" y="399.4" width="97.0" height="4.8" fill="url(#hatch)"/>
<rect x="773.1" y="399.0" width="97.7" height="5.5" fill="none" stroke="#ffffff" stroke-width="1.2"/>
<rect x="783.8" y="404.5" width="4.5" height="10.0" fill="url(#hatch)"/>
<rect x="856.0" y="404.5" width="4.2" height="10.0" fill="url(#hatch)"/>
<rect x="778.4" y="414.4" width="10.0" height="22.4" fill="url(#hatch)"/>
<rect x="855.8" y="414.4" width="9.8" height="22.4" fill="url(#hatch)"/>
<rect x="722.4" y="414.7" width="55.9" height="5.0" fill="url(#hatch)"/>
<rect x="865.9" y="414.7" width="56.0" height="5.0" fill="url(#hatch)"/>
<polyline points="783.5,404.5 783.5,414.4 722.0,414.4" fill="none" stroke="#ffffff" stroke-width="1.3"/>
<polyline points="722.0,419.8 778.1,419.8 778.1,437.0 805.7,437.0" fill="none" stroke="#ffffff" stroke-width="1.3"/>
<polyline points="860.4,404.5 860.4,414.4 922.2,414.4" fill="none" stroke="#ffffff" stroke-width="1.3"/>
<polyline points="922.2,419.8 865.8,419.8 865.8,437.0 837.8,437.0" fill="none" stroke="#ffffff" stroke-width="1.3"/>
<line x1="722.0" y1="414.4" x2="722.0" y2="419.8" stroke="#ffffff" stroke-width="1.2"/>
<line x1="922.2" y1="414.4" x2="922.2" y2="419.8" stroke="#ffffff" stroke-width="1.2"/>
<line x1="787.2" y1="414.4" x2="787.2" y2="426.0" stroke="#ffffff" stroke-width="1.0"/>
<line x1="857.2" y1="414.4" x2="857.2" y2="426.0" stroke="#ffffff" stroke-width="1.0"/>
<rect x="788.5" y="404.8" width="16.2" height="6.2" fill="url(#hatch)"/>
<rect x="788.5" y="425.5" width="16.2" height="6.6" fill="url(#hatch)"/>
<rect x="788.0" y="404.0" width="17.2" height="28.5" fill="none" stroke="#ffffff" stroke-width="1.2"/>
<circle cx="797.5" cy="418.5" r="7.7" fill="none" stroke="#ffffff" stroke-width="1.0"/>
<line x1="789.3" y1="418.5" x2="805.7" y2="418.5" stroke="#ff0000" stroke-width="1.8"/>
<line x1="797.5" y1="410.3" x2="797.5" y2="426.7" stroke="#ff0000" stroke-width="1.8"/>
<rect x="839.2" y="404.8" width="16.2" height="6.2" fill="url(#hatch)"/>
<rect x="839.2" y="425.5" width="16.2" height="6.6" fill="url(#hatch)"/>
<rect x="838.7" y="404.0" width="17.2" height="28.5" fill="none" stroke="#ffffff" stroke-width="1.2"/>
<circle cx="846.8" cy="418.5" r="7.7" fill="none" stroke="#ffffff" stroke-width="1.0"/>
<line x1="838.6" y1="418.5" x2="855.0" y2="418.5" stroke="#ff0000" stroke-width="1.8"/>
<line x1="846.8" y1="410.3" x2="846.8" y2="426.7" stroke="#ff0000" stroke-width="1.8"/>
<rect x="805.7" y="400.0" width="12.2" height="37.5" fill="#333"/>
<rect x="826.5" y="400.0" width="11.3" height="37.5" fill="#333"/>
<rect x="818.5" y="399.6" width="7.3" height="38.0" fill="#000"/>
<line x1="805.7" y1="404.5" x2="805.7" y2="437.5" stroke="#ffffff" stroke-width="1.2"/>
<line x1="837.8" y1="404.5" x2="837.8" y2="437.5" stroke="#ffffff" stroke-width="1.2"/>
<line x1="818.5" y1="400.0" x2="818.5" y2="437.5" stroke="#ffffff" stroke-width="1.2"/>
<line x1="825.8" y1="400.0" x2="825.8" y2="437.5" stroke="#ffffff" stroke-width="1.2"/>
<line x1="818.5" y1="410.8" x2="825.8" y2="410.8" stroke="#ffffff" stroke-width="1.1"/>
<line x1="804.8" y1="437.5" x2="839.1" y2="437.5" stroke="#ffffff" stroke-width="1.2"/>
<polyline points="736.0,414.4 736.0,411.5 737.5,410.0 740.5,410.0 742.0,411.5 742.0,414.4" fill="none" stroke="#ffffff" stroke-width="1.0"/>
<line x1="739.0" y1="409.0" x2="739.0" y2="415.0" stroke="#ff0000" stroke-width="1.5"/>
<polyline points="903.0,414.4 903.0,411.5 904.5,410.0 907.5,410.0 909.0,411.5 909.0,414.4" fill="none" stroke="#ffffff" stroke-width="1.0"/>
<line x1="906.0" y1="409.0" x2="906.0" y2="415.0" stroke="#ff0000" stroke-width="1.5"/>
<polyline points="722.7,419.6 722.7,591.0 921.7,591.0 921.7,419.6" fill="none" stroke="#ffffff" stroke-width="1.3"/>
<polyline points="731.3,419.6 731.3,498.2 912.8,498.2 912.8,419.6" fill="none" stroke="#ffffff" stroke-width="1.3"/>
<polyline points="737.2,419.6 737.2,491.2 801.0,491.2" fill="none" stroke="#ffffff" stroke-width="1.3"/>
<polyline points="906.8,419.6 906.8,491.2 843.0,491.2" fill="none" stroke="#ffffff" stroke-width="1.3"/>
<rect x="732.0" y="420.0" width="4.7" height="71.0" fill="url(#hatch)" stroke="#ffffff" stroke-width="0"/>
<rect x="907.3" y="420.0" width="5.0" height="71.0" fill="url(#hatch)" stroke="#ffffff" stroke-width="0"/>
<rect x="732.0" y="491.7" width="180.0" height="6.0" fill="url(#hatch)" stroke="#ffffff" stroke-width="0"/>
<rect x="801.0" y="444.3" width="42.0" height="48.2" fill="none" stroke="#ffffff" stroke-width="1.2"/>
<rect x="801.5" y="445.0" width="7.5" height="46.0" fill="url(#hatch)" stroke="#ffffff" stroke-width="0"/>
<rect x="835.0" y="445.0" width="7.5" height="46.0" fill="url(#hatch)" stroke="#ffffff" stroke-width="0"/>
<rect x="809.7" y="444.3" width="24.7" height="48.2" fill="none" stroke="#ffffff" stroke-width="1.2"/>
<line x1="809.7" y1="462.0" x2="834.4" y2="462.0" stroke="#ffffff" stroke-width="1.3"/>
<line x1="809.7" y1="476.0" x2="834.4" y2="476.0" stroke="#ffffff" stroke-width="1.3"/>
<rect x="806.0" y="440.0" width="32.0" height="4.3" fill="none" stroke="#ffffff" stroke-width="1.0"/>
<line x1="810.8" y1="454.2" x2="818.4" y2="454.2" stroke="#ff0000" stroke-width="1.5"/>
<line x1="814.6" y1="450.4" x2="814.6" y2="458.0" stroke="#ff0000" stroke-width="1.5"/>
<line x1="825.7" y1="454.2" x2="833.3" y2="454.2" stroke="#ff0000" stroke-width="1.5"/>
<line x1="829.5" y1="450.4" x2="829.5" y2="458.0" stroke="#ff0000" stroke-width="1.5"/>
<circle cx="814.6" cy="454.2" r="3.0" fill="none" stroke="#ffffff" stroke-width="0.9"/>
<circle cx="829.5" cy="454.2" r="3.0" fill="none" stroke="#ffffff" stroke-width="0.9"/>
<line x1="834.2" y1="259.6" x2="945.9" y2="209.9" stroke="#ffff00" stroke-width="1.2"/>
<rect x="943.6" y="208.4" width="4.6" height="3.0" fill="#ffff00"/>
<line x1="827.3" y1="287.0" x2="945.9" y2="230.4" stroke="#ffff00" stroke-width="1.2"/>
<rect x="943.6" y="228.9" width="4.6" height="3.0" fill="#ffff00"/>
<line x1="833.0" y1="90.2" x2="907.1" y2="43.4" stroke="#ffff00" stroke-width="1.2"/>
<rect x="904.8" y="41.9" width="4.6" height="3.0" fill="#ffff00"/>
<line x1="833.0" y1="93.0" x2="945.9" y2="42.3" stroke="#ffff00" stroke-width="1.2"/>
<rect x="943.6" y="40.8" width="4.6" height="3.0" fill="#ffff00"/>
<line x1="838.7" y1="119.8" x2="945.9" y2="67.4" stroke="#ffff00" stroke-width="1.2"/>
<rect x="943.6" y="65.9" width="4.6" height="3.0" fill="#ffff00"/>
<line x1="839.9" y1="122.0" x2="945.9" y2="75.3" stroke="#ffff00" stroke-width="1.2"/>
<rect x="943.6" y="73.8" width="4.6" height="3.0" fill="#ffff00"/>
<line x1="841.0" y1="216.7" x2="945.9" y2="191.6" stroke="#ffff00" stroke-width="1.2"/>
<rect x="943.6" y="190.1" width="4.6" height="3.0" fill="#ffff00"/>
<line x1="842.1" y1="222.4" x2="945.9" y2="200.7" stroke="#ffff00" stroke-width="1.2"/>
<rect x="943.6" y="199.2" width="4.6" height="3.0" fill="#ffff00"/>
<line x1="832.2" y1="343.6" x2="945.9" y2="242.5" stroke="#ffff00" stroke-width="1.2"/>
<rect x="943.6" y="241.0" width="4.6" height="3.0" fill="#ffff00"/>
<line x1="833.4" y1="348.0" x2="945.9" y2="269.2" stroke="#ffff00" stroke-width="1.2"/>
<rect x="943.6" y="267.7" width="4.6" height="3.0" fill="#ffff00"/>
<line x1="837.9" y1="352.6" x2="945.9" y2="281.3" stroke="#ffff00" stroke-width="1.2"/>
<rect x="943.6" y="279.8" width="4.6" height="3.0" fill="#ffff00"/>
<line x1="830.0" y1="358.8" x2="945.9" y2="291.1" stroke="#ffff00" stroke-width="1.2"/>
<rect x="943.6" y="289.6" width="4.6" height="3.0" fill="#ffff00"/>
<line x1="832.2" y1="363.8" x2="945.9" y2="301.8" stroke="#ffff00" stroke-width="1.2"/>
<rect x="943.6" y="300.3" width="4.6" height="3.0" fill="#ffff00"/>
<line x1="837.9" y1="393.0" x2="945.9" y2="308.7" stroke="#ffff00" stroke-width="1.2"/>
<rect x="943.6" y="307.2" width="4.6" height="3.0" fill="#ffff00"/>
<line x1="837.9" y1="393.0" x2="945.9" y2="330.3" stroke="#ffff00" stroke-width="1.2"/>
<rect x="943.6" y="328.8" width="4.6" height="3.0" fill="#ffff00"/>
<line x1="860.9" y1="400.9" x2="945.9" y2="345.1" stroke="#ffff00" stroke-width="1.2"/>
<rect x="943.6" y="343.6" width="4.6" height="3.0" fill="#ffff00"/>
<line x1="851.3" y1="409.3" x2="945.9" y2="360.4" stroke="#ffff00" stroke-width="1.2"/>
<rect x="943.6" y="358.9" width="4.6" height="3.0" fill="#ffff00"/>
<line x1="906.4" y1="411.0" x2="945.9" y2="375.9" stroke="#ffff00" stroke-width="1.2"/>
<rect x="943.6" y="374.4" width="4.6" height="3.0" fill="#ffff00"/>
<line x1="906.5" y1="411.5" x2="945.9" y2="387.8" stroke="#ffff00" stroke-width="1.2"/>
<rect x="943.6" y="386.3" width="4.6" height="3.0" fill="#ffff00"/>
<line x1="907.0" y1="413.0" x2="945.9" y2="399.2" stroke="#ffff00" stroke-width="1.2"/>
<rect x="943.6" y="397.7" width="4.6" height="3.0" fill="#ffff00"/>
<line x1="919.9" y1="416.6" x2="945.9" y2="403.7" stroke="#ffff00" stroke-width="1.2"/>
<rect x="943.6" y="402.2" width="4.6" height="3.0" fill="#ffff00"/>
<line x1="840.6" y1="440.6" x2="946.9" y2="426.5" stroke="#ffff00" stroke-width="1.2"/>
<rect x="944.6" y="425.0" width="4.6" height="3.0" fill="#ffff00"/>
<line x1="830.7" y1="471.5" x2="946.9" y2="444.3" stroke="#ffff00" stroke-width="1.2"/>
<rect x="944.6" y="442.8" width="4.6" height="3.0" fill="#ffff00"/>
<line x1="911.0" y1="491.7" x2="946.9" y2="496.7" stroke="#ffff00" stroke-width="1.2"/>
<rect x="944.6" y="495.2" width="4.6" height="3.0" fill="#ffff00"/>
<polyline points="71.3,682.6 71.3,575.3 584.3,575.3 584.3,681.5" fill="none" stroke="#ffff00" stroke-width="1.5"/>
<rect x="325.0" y="573.0" width="6.0" height="3.0" fill="none" stroke="#ffff00" stroke-width="0"/>
<polygon points="584.5,695.4 577.8,720.6 564.7,743.1 546.3,761.5 523.8,774.6 498.6,781.3 472.6,781.3 447.4,774.6 424.9,761.5 406.5,743.1 393.4,720.6 386.7,695.4 386.7,669.4 393.4,644.2 406.5,621.7 424.9,603.3 447.4,590.2 472.6,583.5 498.6,583.5 523.8,590.2 546.3,603.3 564.7,621.7 577.8,644.2 584.5,669.4" fill="none" stroke="#ffffff" stroke-width="1.2"/>
<polygon points="535.4,682.4 531.6,701.5 520.8,717.6 504.7,728.4 485.6,732.2 466.5,728.4 450.4,717.6 439.6,701.5 435.8,682.4 439.6,663.3 450.4,647.2 466.5,636.4 485.6,632.6 504.7,636.4 520.8,647.2 531.6,663.3" fill="none" stroke="#ffffff" stroke-width="1.2"/>
<line x1="485.6" y1="600.0" x2="485.6" y2="756.5" stroke="#ff0000" stroke-width="1.5"/>
<line x1="425.3" y1="682.3" x2="561.0" y2="682.3" stroke="#ff0000" stroke-width="1.5"/>
<line x1="437.7" y1="599.3" x2="532.6" y2="765.5" stroke="#ffff00" stroke-width="1.2"/>
<line x1="395.6" y1="725.5" x2="575.3" y2="640.1" stroke="#ffff00" stroke-width="1.2"/>
<circle cx="437.7" cy="599.3" r="3.2" fill="#bbb" stroke="#ffffff" stroke-width="1.0"/>
<line x1="434.2" y1="595.8" x2="441.2" y2="602.8" stroke="#ff0000" stroke-width="1.4"/>
<line x1="441.2" y1="595.8" x2="434.2" y2="602.8" stroke="#ff0000" stroke-width="1.4"/>
<circle cx="532.6" cy="599.3" r="3.2" fill="#bbb" stroke="#ffffff" stroke-width="1.0"/>
<line x1="529.1" y1="595.8" x2="536.1" y2="602.8" stroke="#ff0000" stroke-width="1.4"/>
<line x1="536.1" y1="595.8" x2="529.1" y2="602.8" stroke="#ff0000" stroke-width="1.4"/>
<circle cx="437.7" cy="765.5" r="3.2" fill="#bbb" stroke="#ffffff" stroke-width="1.0"/>
<line x1="434.2" y1="762.0" x2="441.2" y2="769.0" stroke="#ff0000" stroke-width="1.4"/>
<line x1="441.2" y1="762.0" x2="434.2" y2="769.0" stroke="#ff0000" stroke-width="1.4"/>
<circle cx="532.6" cy="765.5" r="3.2" fill="#bbb" stroke="#ffffff" stroke-width="1.0"/>
<line x1="529.1" y1="762.0" x2="536.1" y2="769.0" stroke="#ff0000" stroke-width="1.4"/>
<line x1="536.1" y1="762.0" x2="529.1" y2="769.0" stroke="#ff0000" stroke-width="1.4"/>
<circle cx="580.4" cy="682.3" r="3.2" fill="#bbb" stroke="#ffffff" stroke-width="1.0"/>
<line x1="574.9" y1="682.3" x2="585.9" y2="682.3" stroke="#ff0000" stroke-width="1.5"/>
<line x1="580.4" y1="676.8" x2="580.4" y2="687.8" stroke="#ff0000" stroke-width="1.5"/>
<rect x="452.0" y="626.0" width="3.0" height="4.0" fill="none" stroke="#ffff00" stroke-width="0"/>
<rect x="550.0" y="646.0" width="4.0" height="3.0" fill="none" stroke="#ffff00" stroke-width="0"/>
<line x1="71.0" y1="672.0" x2="199.6" y2="672.0" stroke="#ffffff" stroke-width="1.4"/>
<line x1="71.0" y1="693.4" x2="199.6" y2="693.4" stroke="#ffffff" stroke-width="1.4"/>
<line x1="71.0" y1="672.0" x2="71.0" y2="693.4" stroke="#ffffff" stroke-width="1.4"/>
<line x1="71.0" y1="673.9" x2="93.3" y2="673.9" stroke="#ffffff" stroke-width="1.1"/>
<line x1="71.0" y1="691.5" x2="93.3" y2="691.5" stroke="#ffffff" stroke-width="1.1"/>
<line x1="77.6" y1="673.9" x2="77.6" y2="691.5" stroke="#ffffff" stroke-width="1.1"/>
<line x1="81.4" y1="673.9" x2="81.4" y2="691.5" stroke="#ffffff" stroke-width="1.1"/>
<rect x="93.3" y="672.0" width="13.2" height="21.4" fill="none" stroke="#ffffff" stroke-width="1.2"/>
<polyline points="97.0,679.0 98.5,677.5 104.0,677.5 105.0,679.0 105.0,686.0 104.0,687.5 98.5,687.5 97.0,686.0" fill="none" stroke="#ffffff" stroke-width="1.1"/>
<rect x="107.1" y="673.5" width="3.2" height="18.5" fill="none" stroke="#ffffff" stroke-width="1.1"/>
<rect x="110.9" y="673.9" width="13.2" height="17.6" fill="none" stroke="#ffffff" stroke-width="1.2"/>
<rect x="124.7" y="673.9" width="22.7" height="17.6" fill="none" stroke="#ffffff" stroke-width="1.2"/>
<line x1="124.7" y1="675.5" x2="147.4" y2="675.5" stroke="#ffffff" stroke-width="0.9"/>
<line x1="124.7" y1="690.0" x2="147.4" y2="690.0" stroke="#ffffff" stroke-width="0.9"/>
<rect x="148.0" y="673.9" width="7.0" height="17.6" fill="none" stroke="#ffffff" stroke-width="1.1"/>
<rect x="155.0" y="672.0" width="13.8" height="21.4" fill="none" stroke="#ffffff" stroke-width="1.2"/>
<polyline points="156.5,676.0 158.5,678.0 158.5,687.0 156.5,689.0" fill="none" stroke="#ffffff" stroke-width="1.0"/>
<line x1="93.8" y1="676.4" x2="99.0" y2="676.4" stroke="#ff0000" stroke-width="1.4"/>
<line x1="96.4" y1="673.8" x2="96.4" y2="679.0" stroke="#ff0000" stroke-width="1.4"/>
<line x1="93.8" y1="689.6" x2="99.0" y2="689.6" stroke="#ff0000" stroke-width="1.4"/>
<line x1="96.4" y1="687.0" x2="96.4" y2="692.2" stroke="#ff0000" stroke-width="1.4"/>
<line x1="161.8" y1="676.4" x2="167.0" y2="676.4" stroke="#ff0000" stroke-width="1.4"/>
<line x1="164.4" y1="673.8" x2="164.4" y2="679.0" stroke="#ff0000" stroke-width="1.4"/>
<line x1="161.8" y1="689.6" x2="167.0" y2="689.6" stroke="#ff0000" stroke-width="1.4"/>
<line x1="164.4" y1="687.0" x2="164.4" y2="692.2" stroke="#ff0000" stroke-width="1.4"/>
<line x1="114.6" y1="682.7" x2="119.8" y2="682.7" stroke="#ff0000" stroke-width="1.4"/>
<line x1="117.2" y1="680.1" x2="117.2" y2="685.3" stroke="#ff0000" stroke-width="1.4"/>
<line x1="148.6" y1="682.7" x2="153.8" y2="682.7" stroke="#ff0000" stroke-width="1.4"/>
<line x1="151.2" y1="680.1" x2="151.2" y2="685.3" stroke="#ff0000" stroke-width="1.4"/>
<line x1="199.6" y1="668.2" x2="440.0" y2="668.2" stroke="#ffffff" stroke-width="1.4"/>
<line x1="199.6" y1="697.1" x2="440.0" y2="697.1" stroke="#ffffff" stroke-width="1.4"/>
<line x1="199.6" y1="672.0" x2="250.3" y2="672.0" stroke="#ffffff" stroke-width="1.2"/>
<line x1="199.6" y1="694.0" x2="250.3" y2="694.0" stroke="#ffffff" stroke-width="1.2"/>
<rect x="199.6" y="668.2" width="15.0" height="3.8" fill="none" stroke="#ffffff" stroke-width="1.1"/>
<polyline points="205.0,668.2 205.0,664.5 215.0,664.5 215.0,668.2" fill="none" stroke="#ffffff" stroke-width="1.2"/>
<polyline points="205.0,697.1 205.0,700.9 215.0,700.9 215.0,697.1" fill="none" stroke="#ffffff" stroke-width="1.2"/>
<line x1="210.3" y1="663.8" x2="210.3" y2="701.5" stroke="#ff0000" stroke-width="1.6"/>
<line x1="205.0" y1="669.5" x2="229.0" y2="669.5" stroke="#ffff00" stroke-width="1.2"/>
<rect x="226.0" y="668.3" width="3.5" height="2.4" fill="#ffff00"/>
<polyline points="259.1,673.9 245.3,673.9 245.3,691.5 259.1,691.5" fill="none" stroke="#ffffff" stroke-width="1.2"/>
<rect x="247.8" y="677.6" width="11.3" height="10.0" fill="none" stroke="#ffffff" stroke-width="1.2"/>
<rect x="251.5" y="670.0" width="7.0" height="4.0" fill="none" stroke="#ffffff" stroke-width="1.0"/>
<rect x="251.5" y="691.5" width="7.0" height="4.0" fill="none" stroke="#ffffff" stroke-width="1.0"/>
<rect x="251.5" y="670.0" width="5.0" height="3.0" fill="#ffff00"/>
<line x1="254.3" y1="668.8" x2="254.3" y2="696.5" stroke="#ff0000" stroke-width="1.6"/>
<polyline points="259.1,678.3 268.0,678.3 269.5,680.0 269.5,685.4 268.0,687.1 259.1,687.1" fill="none" stroke="#ffffff" stroke-width="1.2"/>
<polyline points="269.5,680.0 271.0,679.5 274.0,680.5 275.5,682.7 274.0,685.0 271.0,686.0 269.5,685.4" fill="none" stroke="#ffffff" stroke-width="1.2"/>
<ellipse cx="278.5" cy="682.7" rx="4.5" ry="8.6" fill="none" stroke="#fff" stroke-width="1.2"/>
<polyline points="279.0,674.0 320.0,674.0 322.5,678.0 323.0,682.7 322.5,687.5 320.0,692.0 279.0,692.0" fill="none" stroke="#ffffff" stroke-width="1.3"/>
<circle cx="294.3" cy="682.7" r="4.2" fill="none" stroke="#ffffff" stroke-width="1.1"/>
<circle cx="317.6" cy="682.7" r="4.2" fill="none" stroke="#ffffff" stroke-width="1.1"/>
<line x1="291.5" y1="682.7" x2="297.1" y2="682.7" stroke="#ff0000" stroke-width="1.5"/>
<line x1="294.3" y1="679.9" x2="294.3" y2="685.5" stroke="#ff0000" stroke-width="1.5"/>
<line x1="314.8" y1="682.7" x2="320.4" y2="682.7" stroke="#ff0000" stroke-width="1.5"/>
<line x1="317.6" y1="679.9" x2="317.6" y2="685.5" stroke="#ff0000" stroke-width="1.5"/>
<rect x="322.6" y="676.0" width="7.0" height="13.5" fill="none" stroke="#ffffff" stroke-width="1.1"/>
<rect x="324.0" y="677.0" width="4.0" height="4.0" fill="none" stroke="#ffffff" stroke-width="0.9"/>
<rect x="324.0" y="684.0" width="4.0" height="4.0" fill="none" stroke="#ffffff" stroke-width="0.9"/>
<line x1="327.7" y1="676.0" x2="327.7" y2="690.0" stroke="#ff0000" stroke-width="1.4"/>
<line x1="331.5" y1="676.0" x2="331.5" y2="690.0" stroke="#ff0000" stroke-width="1.4"/>
<line x1="325.0" y1="679.0" x2="335.8" y2="679.0" stroke="#ff0000" stroke-width="1.4"/>
<line x1="325.0" y1="685.2" x2="335.8" y2="685.2" stroke="#ff0000" stroke-width="1.4"/>
<polyline points="325.8,676.5 325.8,675.1 356.6,675.1" fill="none" stroke="#ffff00" stroke-width="1.2"/>
<rect x="352.0" y="674.0" width="4.5" height="2.4" fill="#ffff00"/>
<rect x="386.0" y="669.2" width="54.0" height="27.0" fill="#000"/>
<line x1="440.0" y1="668.2" x2="440.0" y2="697.1" stroke="#ffffff" stroke-width="0"/>
<polyline points="440.0,668.2 443.0,665.6 531.0,665.6 531.0,700.6 443.0,700.6 440.0,697.1" fill="none" stroke="#ffffff" stroke-width="1.2"/>
<polyline points="452.0,665.6 452.0,669.0 456.0,671.5 463.3,671.5" fill="none" stroke="#ffffff" stroke-width="1.1"/>
<polyline points="452.0,700.6 452.0,695.0 456.0,692.5 463.3,692.5" fill="none" stroke="#ffffff" stroke-width="1.1"/>
<line x1="463.3" y1="665.6" x2="463.3" y2="700.6" stroke="#ffffff" stroke-width="1.2"/>
<line x1="463.3" y1="672.5" x2="494.0" y2="672.5" stroke="#ffffff" stroke-width="1.1"/>
<line x1="463.3" y1="691.0" x2="494.0" y2="691.0" stroke="#ffffff" stroke-width="1.1"/>
<line x1="479.0" y1="665.6" x2="479.0" y2="672.5" stroke="#ffffff" stroke-width="1.1"/>
<line x1="494.0" y1="665.6" x2="494.0" y2="700.6" stroke="#ffffff" stroke-width="1.2"/>
<line x1="508.0" y1="665.6" x2="508.0" y2="700.6" stroke="#ffffff" stroke-width="1.2"/>
<line x1="494.0" y1="689.0" x2="508.0" y2="689.0" stroke="#ffffff" stroke-width="1.1"/>
<rect x="479.0" y="660.5" width="11.0" height="5.0" fill="none" stroke="#ffffff" stroke-width="1.1"/>
<line x1="479.0" y1="660.5" x2="490.0" y2="660.5" stroke="#ffff00" stroke-width="1.3"/>
<rect x="479.0" y="700.6" width="11.0" height="2.8" fill="none" stroke="#ffffff" stroke-width="1.1"/>
<line x1="425.3" y1="682.3" x2="463.0" y2="682.3" stroke="#ff0000" stroke-width="1.5"/>
<g>
<line x1="1060.5" y1="519.2" x2="1271.0" y2="519.2" stroke="#ffffff" stroke-width="1.6"/>
<line x1="1060.5" y1="527.4" x2="1271.0" y2="527.4" stroke="#ffffff" stroke-width="1.6"/>
<line x1="1060.5" y1="535.6" x2="1271.0" y2="535.6" stroke="#ffffff" stroke-width="1.6"/>
<line x1="1060.5" y1="543.8" x2="1271.0" y2="543.8" stroke="#ffffff" stroke-width="1.6"/>
<line x1="1060.5" y1="552.0" x2="1271.0" y2="552.0" stroke="#ffffff" stroke-width="1.6"/>
<line x1="1060.5" y1="560.2" x2="1271.0" y2="560.2" stroke="#ffffff" stroke-width="1.6"/>
<line x1="1060.5" y1="568.4" x2="1271.0" y2="568.4" stroke="#ffffff" stroke-width="1.6"/>
<line x1="1060.5" y1="576.6" x2="1271.0" y2="576.6" stroke="#ffffff" stroke-width="1.6"/>
<line x1="1060.5" y1="584.8" x2="1271.0" y2="584.8" stroke="#ffffff" stroke-width="1.6"/>
<line x1="1060.5" y1="593.0" x2="1271.0" y2="593.0" stroke="#ffffff" stroke-width="1.6"/>
<line x1="1060.5" y1="601.2" x2="1271.0" y2="601.2" stroke="#ffffff" stroke-width="1.6"/>
<line x1="1060.5" y1="609.5" x2="1271.0" y2="609.5" stroke="#ffffff" stroke-width="1.6"/>
<line x1="1060.5" y1="617.7" x2="1271.0" y2="617.7" stroke="#ffffff" stroke-width="1.6"/>
<line x1="1060.5" y1="625.9" x2="1271.0" y2="625.9" stroke="#ffffff" stroke-width="1.6"/>
<line x1="1060.5" y1="634.1" x2="1271.0" y2="634.1" stroke="#ffffff" stroke-width="1.6"/>
<line x1="1060.5" y1="642.3" x2="1271.0" y2="642.3" stroke="#ffffff" stroke-width="1.6"/>
<line x1="1060.5" y1="650.5" x2="1271.0" y2="650.5" stroke="#ffffff" stroke-width="1.6"/>
<line x1="1060.5" y1="658.7" x2="1271.0" y2="658.7" stroke="#ffffff" stroke-width="1.6"/>
<line x1="1060.5" y1="666.9" x2="1271.0" y2="666.9" stroke="#ffffff" stroke-width="1.6"/>
<line x1="1060.5" y1="675.1" x2="1271.0" y2="675.1" stroke="#ffffff" stroke-width="1.6"/>
<line x1="1060.5" y1="683.3" x2="1271.0" y2="683.3" stroke="#ffffff" stroke-width="1.6"/>
<line x1="1060.5" y1="691.5" x2="1271.0" y2="691.5" stroke="#ffffff" stroke-width="1.6"/>
<line x1="1060.5" y1="699.7" x2="1271.0" y2="699.7" stroke="#ffffff" stroke-width="1.6"/>
<line x1="1060.5" y1="707.9" x2="1271.0" y2="707.9" stroke="#ffffff" stroke-width="1.6"/>
<line x1="1060.5" y1="716.1" x2="1271.0" y2="716.1" stroke="#ffffff" stroke-width="1.6"/>
<line x1="1060.5" y1="724.3" x2="1271.0" y2="724.3" stroke="#ffffff" stroke-width="1.6"/>
<line x1="1060.5" y1="732.5" x2="1271.0" y2="732.5" stroke="#ffffff" stroke-width="1.6"/>
<line x1="1060.5" y1="740.7" x2="1271.0" y2="740.7" stroke="#ffffff" stroke-width="1.6"/>
<line x1="1060.5" y1="748.9" x2="1271.0" y2="748.9" stroke="#ffffff" stroke-width="1.6"/>
<line x1="1060.5" y1="757.1" x2="1271.0" y2="757.1" stroke="#ffffff" stroke-width="1.6"/>
<line x1="1060.5" y1="765.4" x2="1271.0" y2="765.4" stroke="#ffffff" stroke-width="1.6"/>
<line x1="1060.5" y1="773.6" x2="1271.0" y2="773.6" stroke="#ffffff" stroke-width="1.6"/>
<line x1="1060.5" y1="781.8" x2="1271.0" y2="781.8" stroke="#ffffff" stroke-width="1.6"/>
<line x1="1060.5" y1="790.0" x2="1271.0" y2="790.0" stroke="#ffffff" stroke-width="1.6"/>
<line x1="1060.5" y1="798.2" x2="1271.0" y2="798.2" stroke="#ffffff" stroke-width="1.6"/>
<line x1="1060.5" y1="806.4" x2="1271.0" y2="806.4" stroke="#ffffff" stroke-width="1.6"/>
<line x1="1060.5" y1="814.6" x2="1271.0" y2="814.6" stroke="#ffffff" stroke-width="1.6"/>
<line x1="1060.5" y1="822.8" x2="1271.0" y2="822.8" stroke="#ffffff" stroke-width="1.6"/>
<line x1="1060.5" y1="519.2" x2="1060.5" y2="838.1" stroke="#ffffff" stroke-width="1.6"/>
<line x1="1069.5" y1="519.2" x2="1069.5" y2="838.1" stroke="#ffffff" stroke-width="1.6"/>
<line x1="1116.5" y1="519.2" x2="1116.5" y2="838.1" stroke="#ffffff" stroke-width="1.6"/>
<line x1="1168.5" y1="519.2" x2="1168.5" y2="838.1" stroke="#ffffff" stroke-width="1.6"/>
<line x1="1177.7" y1="519.2" x2="1177.7" y2="838.1" stroke="#ffffff" stroke-width="1.6"/>
<line x1="1222.5" y1="519.2" x2="1222.5" y2="838.1" stroke="#ffffff" stroke-width="1.6"/>
<line x1="1233.3" y1="519.2" x2="1233.3" y2="838.1" stroke="#ffffff" stroke-width="1.6"/>
<line x1="1247.6" y1="519.2" x2="1247.6" y2="838.1" stroke="#ffffff" stroke-width="1.6"/>
<line x1="1271.0" y1="519.2" x2="1271.0" y2="838.1" stroke="#ffffff" stroke-width="1.6"/>
<rect x="1061.7" y="520.8" width="5.4" height="5.2" fill="#ffffff"/>
<rect x="1072.0" y="521.4" width="31.0" height="4.2" fill="#ffffff"/>
<text x="1142.5" y="526.1" font-size="7.2" fill="#a8a8a8" text-anchor="middle" textLength="48.2" lengthAdjust="spacingAndGlyphs">开槽圆柱螺钉M6X8</text>
<text x="1173.0" y="526.1" font-size="7" fill="#a8a8a8" text-anchor="middle" >4</text>
<text x="1183.0" y="526.1" font-size="7" fill="#a8a8a8" text-anchor="start" textLength="12.8" lengthAdjust="spacingAndGlyphs">Q235</text>
<rect x="1061.7" y="529.0" width="5.4" height="5.2" fill="#ffffff"/>
<text x="1071.5" y="534.7" font-size="6.6" fill="#9a9a9a" text-anchor="start" textLength="26.6" lengthAdjust="spacingAndGlyphs">GB/T77-85</text>
<text x="1142.5" y="534.3" font-size="7.2" fill="#a8a8a8" text-anchor="middle" textLength="42.8" lengthAdjust="spacingAndGlyphs">紧定螺钉M10X10</text>
<text x="1173.0" y="534.3" font-size="7" fill="#a8a8a8" text-anchor="middle" >2</text>
<text x="1183.0" y="534.3" font-size="7" fill="#a8a8a8" text-anchor="start" textLength="12.8" lengthAdjust="spacingAndGlyphs">Q215</text>
<rect x="1061.7" y="537.2" width="5.4" height="5.2" fill="#ffffff"/>
<text x="1070.4" y="543.0" font-size="6.3" fill="#ffffff" text-anchor="start" font-weight="bold" textLength="46" lengthAdjust="spacingAndGlyphs">0640200UUR-Z0B-03</text>
<text x="1142.5" y="542.5" font-size="7.2" fill="#a8a8a8" text-anchor="middle" textLength="23.6" lengthAdjust="spacingAndGlyphs">机械爪子</text>
<text x="1173.0" y="542.5" font-size="7" fill="#a8a8a8" text-anchor="middle" >1</text>
<text x="1183.0" y="542.5" font-size="7" fill="#a8a8a8" text-anchor="start" textLength="16.0" lengthAdjust="spacingAndGlyphs">HT200</text>
<text x="1065.0" y="550.5" font-size="7" fill="#a8a8a8" text-anchor="middle" >34</text>
<text x="1071.5" y="551.1" font-size="6.6" fill="#9a9a9a" text-anchor="start" textLength="32.5" lengthAdjust="spacingAndGlyphs">DJ-J40C-E1*</text>
<rect x="1123.0" y="546.0" width="42.0" height="4.5" fill="#ffffff"/>
<text x="1173.0" y="550.7" font-size="7" fill="#a8a8a8" text-anchor="middle" >1</text>
<rect x="1061.7" y="553.6" width="5.4" height="5.2" fill="#ffffff"/>
<text x="1071.5" y="559.3" font-size="6.6" fill="#9a9a9a" text-anchor="start" textLength="26.6" lengthAdjust="spacingAndGlyphs">GB/T77-85</text>
<text x="1142.5" y="558.9" font-size="7.2" fill="#a8a8a8" text-anchor="middle" textLength="39.6" lengthAdjust="spacingAndGlyphs">紧定螺钉M8X15</text>
<text x="1173.0" y="558.9" font-size="7" fill="#a8a8a8" text-anchor="middle" >4</text>
<text x="1183.0" y="558.9" font-size="7" fill="#a8a8a8" text-anchor="start" textLength="12.8" lengthAdjust="spacingAndGlyphs">Q215</text>
<rect x="1061.7" y="561.8" width="5.4" height="5.2" fill="#ffffff"/>
<text x="1070.4" y="567.6" font-size="6.3" fill="#ffffff" text-anchor="start" font-weight="bold" textLength="46" lengthAdjust="spacingAndGlyphs">06402UUR-Z0B-04</text>
<text x="1142.5" y="567.1" font-size="7.2" fill="#a8a8a8" text-anchor="middle" textLength="11.8" lengthAdjust="spacingAndGlyphs">小臂</text>
<text x="1173.0" y="567.1" font-size="7" fill="#a8a8a8" text-anchor="middle" >1</text>
<text x="1183.0" y="567.1" font-size="7" fill="#a8a8a8" text-anchor="start" textLength="16.0" lengthAdjust="spacingAndGlyphs">HT200</text>
<rect x="1061.7" y="570.0" width="5.4" height="5.2" fill="#ffffff"/>
<text x="1071.5" y="575.7" font-size="6.6" fill="#9a9a9a" text-anchor="start" textLength="32.5" lengthAdjust="spacingAndGlyphs">DG-J40C-E1*</text>
<text x="1142.5" y="575.3" font-size="7.2" fill="#a8a8a8" text-anchor="middle" textLength="29.5" lengthAdjust="spacingAndGlyphs">小臂液压缸</text>
<text x="1173.0" y="575.3" font-size="7" fill="#a8a8a8" text-anchor="middle" >1</text>
<rect x="1061.7" y="578.2" width="5.4" height="5.2" fill="#ffffff"/>
<text x="1071.5" y="583.9" font-size="6.6" fill="#9a9a9a" text-anchor="start" textLength="26.6" lengthAdjust="spacingAndGlyphs">GB/T77-85</text>
<text x="1142.5" y="583.5" font-size="7.2" fill="#a8a8a8" text-anchor="middle" textLength="39.6" lengthAdjust="spacingAndGlyphs">紧定螺钉M8X18</text>
<text x="1173.0" y="583.5" font-size="7" fill="#a8a8a8" text-anchor="middle" >4</text>
<text x="1183.0" y="583.5" font-size="7" fill="#a8a8a8" text-anchor="start" textLength="12.8" lengthAdjust="spacingAndGlyphs">Q215</text>
<rect x="1061.7" y="586.4" width="5.4" height="5.2" fill="#ffffff"/>
<rect x="1072.0" y="587.0" width="31.0" height="4.2" fill="#ffffff"/>
<text x="1142.5" y="591.7" font-size="7.2" fill="#a8a8a8" text-anchor="middle" textLength="15.0" lengthAdjust="spacingAndGlyphs">垫圈8</text>
<text x="1173.0" y="591.7" font-size="7" fill="#a8a8a8" text-anchor="middle" >4</text>
<text x="1183.0" y="591.7" font-size="7" fill="#a8a8a8" text-anchor="start" textLength="12.8" lengthAdjust="spacingAndGlyphs">Q235</text>
<rect x="1061.7" y="594.6" width="5.4" height="5.2" fill="#ffffff"/>
<text x="1071.5" y="600.3" font-size="6.6" fill="#9a9a9a" text-anchor="start" textLength="32.5" lengthAdjust="spacingAndGlyphs">GB/T65-2000</text>
<text x="1142.5" y="599.9" font-size="7.2" fill="#a8a8a8" text-anchor="middle" textLength="48.2" lengthAdjust="spacingAndGlyphs">开槽圆柱螺钉M6X8</text>
<text x="1173.0" y="599.9" font-size="7" fill="#a8a8a8" text-anchor="middle" >2</text>
<text x="1183.0" y="599.9" font-size="7" fill="#a8a8a8" text-anchor="start" textLength="12.8" lengthAdjust="spacingAndGlyphs">Q235</text>
<rect x="1061.7" y="602.9" width="5.4" height="5.2" fill="#ffffff"/>
<text x="1070.4" y="608.7" font-size="6.3" fill="#ffffff" text-anchor="start" font-weight="bold" textLength="46" lengthAdjust="spacingAndGlyphs">0640200UUR-Z0B-05</text>
<text x="1142.5" y="608.2" font-size="7.2" fill="#a8a8a8" text-anchor="middle" textLength="11.8" lengthAdjust="spacingAndGlyphs">挡板</text>
<text x="1173.0" y="608.2" font-size="7" fill="#a8a8a8" text-anchor="middle" >1</text>
<text x="1183.0" y="608.2" font-size="7" fill="#a8a8a8" text-anchor="start" textLength="12.3" lengthAdjust="spacingAndGlyphs">45钢</text>
<rect x="1061.7" y="611.1" width="5.4" height="5.2" fill="#ffffff"/>
<text x="1070.4" y="616.9" font-size="6.3" fill="#ffffff" text-anchor="start" font-weight="bold" textLength="46" lengthAdjust="spacingAndGlyphs">0640200UUR-Z0B-06</text>
<text x="1142.5" y="616.4" font-size="7.2" fill="#a8a8a8" text-anchor="middle" textLength="41.3" lengthAdjust="spacingAndGlyphs">小臂液压缸支座</text>
<text x="1173.0" y="616.4" font-size="7" fill="#a8a8a8" text-anchor="middle" >1</text>
<text x="1183.0" y="616.4" font-size="7" fill="#a8a8a8" text-anchor="start" textLength="16.0" lengthAdjust="spacingAndGlyphs">HT200</text>
<rect x="1061.7" y="619.3" width="5.4" height="5.2" fill="#ffffff"/>
<text x="1070.4" y="625.1" font-size="6.3" fill="#ffffff" text-anchor="start" font-weight="bold" textLength="46" lengthAdjust="spacingAndGlyphs">0640200UUR-Z0B-07</text>
<text x="1142.5" y="624.6" font-size="7.2" fill="#a8a8a8" text-anchor="middle" textLength="11.8" lengthAdjust="spacingAndGlyphs">大臂</text>
<text x="1173.0" y="624.6" font-size="7" fill="#a8a8a8" text-anchor="middle" >1</text>
<rect x="1184.0" y="619.9" width="15.0" height="4.2" fill="#ffffff"/>
<rect x="1061.7" y="627.5" width="5.4" height="5.2" fill="#ffffff"/>
<text x="1071.5" y="633.2" font-size="6.6" fill="#9a9a9a" text-anchor="start" textLength="26.6" lengthAdjust="spacingAndGlyphs">GB/T91-86</text>
<text x="1142.5" y="632.8" font-size="7.2" fill="#a8a8a8" text-anchor="middle" textLength="17.7" lengthAdjust="spacingAndGlyphs">开口销</text>
<text x="1173.0" y="632.8" font-size="7" fill="#a8a8a8" text-anchor="middle" >2</text>
<text x="1183.0" y="632.8" font-size="7" fill="#a8a8a8" text-anchor="start" textLength="12.3" lengthAdjust="spacingAndGlyphs">45钢</text>
<rect x="1061.7" y="635.7" width="5.4" height="5.2" fill="#ffffff"/>
<rect x="1072.0" y="636.3" width="31.0" height="4.2" fill="#ffffff"/>
<rect x="1131.0" y="636.1" width="13.0" height="4.8" fill="#ffffff"/>
<text x="1173.0" y="641.0" font-size="7" fill="#a8a8a8" text-anchor="middle" >2</text>
<text x="1183.0" y="641.0" font-size="7" fill="#a8a8a8" text-anchor="start" textLength="12.3" lengthAdjust="spacingAndGlyphs">45钢</text>
<rect x="1061.7" y="643.9" width="5.4" height="5.2" fill="#ffffff"/>
<rect x="1072.0" y="644.5" width="27.0" height="4.2" fill="#ffffff"/>
<rect x="1132.0" y="644.3" width="18.0" height="4.8" fill="#ffffff"/>
<text x="1173.0" y="649.2" font-size="7" fill="#a8a8a8" text-anchor="middle" >2</text>
<text x="1183.0" y="649.2" font-size="7" fill="#a8a8a8" text-anchor="start" textLength="12.3" lengthAdjust="spacingAndGlyphs">45钢</text>
<rect x="1061.7" y="652.1" width="5.4" height="5.2" fill="#ffffff"/>
<text x="1071.5" y="657.8" font-size="6.6" fill="#9a9a9a" text-anchor="start" textLength="29.5" lengthAdjust="spacingAndGlyphs">GB/T119-86</text>
<text x="1142.5" y="657.4" font-size="7.2" fill="#a8a8a8" text-anchor="middle" textLength="11.8" lengthAdjust="spacingAndGlyphs">销柱</text>
<text x="1173.0" y="657.4" font-size="7" fill="#a8a8a8" text-anchor="middle" >2</text>
<text x="1183.0" y="657.4" font-size="7" fill="#a8a8a8" text-anchor="start" textLength="12.3" lengthAdjust="spacingAndGlyphs">45钢</text>
<rect x="1061.7" y="660.3" width="5.4" height="5.2" fill="#ffffff"/>
<rect x="1072.0" y="660.9" width="27.0" height="4.2" fill="#ffffff"/>
<text x="1142.5" y="665.6" font-size="7.2" fill="#a8a8a8" text-anchor="middle" textLength="17.7" lengthAdjust="spacingAndGlyphs">开口销</text>
<text x="1173.0" y="665.6" font-size="7" fill="#a8a8a8" text-anchor="middle" >2</text>
<text x="1183.0" y="665.6" font-size="7" fill="#a8a8a8" text-anchor="start" textLength="12.3" lengthAdjust="spacingAndGlyphs">45钢</text>
<text x="1065.0" y="673.6" font-size="7" fill="#a8a8a8" text-anchor="middle" >19</text>
<text x="1071.5" y="674.2" font-size="6.6" fill="#9a9a9a" text-anchor="start" textLength="29.5" lengthAdjust="spacingAndGlyphs">GB/T119-86</text>
<text x="1142.5" y="673.8" font-size="7.2" fill="#a8a8a8" text-anchor="middle" textLength="11.8" lengthAdjust="spacingAndGlyphs">销柱</text>
<text x="1173.0" y="673.8" font-size="7" fill="#a8a8a8" text-anchor="middle" >2</text>
<text x="1183.0" y="673.8" font-size="7" fill="#a8a8a8" text-anchor="start" textLength="12.3" lengthAdjust="spacingAndGlyphs">45钢</text>
<text x="1065.0" y="681.8" font-size="7" fill="#a8a8a8" text-anchor="middle" >18</text>
<text x="1070.4" y="682.5" font-size="6.3" fill="#ffffff" text-anchor="start" font-weight="bold" textLength="46" lengthAdjust="spacingAndGlyphs">0640200UUR-Z0B-08</text>
<text x="1142.5" y="682.0" font-size="7.2" fill="#a8a8a8" text-anchor="middle" textLength="11.8" lengthAdjust="spacingAndGlyphs">腰杆</text>
<text x="1173.0" y="682.0" font-size="7" fill="#a8a8a8" text-anchor="middle" >1</text>
<text x="1183.0" y="682.0" font-size="7" fill="#a8a8a8" text-anchor="start" textLength="16.0" lengthAdjust="spacingAndGlyphs">HT200</text>
<text x="1065.0" y="690.0" font-size="7" fill="#a8a8a8" text-anchor="middle" >17</text>
<text x="1071.5" y="690.6" font-size="6.6" fill="#9a9a9a" text-anchor="start" textLength="32.5" lengthAdjust="spacingAndGlyphs">DG-J63C-E1*</text>
<text x="1142.5" y="690.2" font-size="7.2" fill="#a8a8a8" text-anchor="middle" textLength="29.5" lengthAdjust="spacingAndGlyphs">大臂液压缸</text>
<text x="1173.0" y="690.2" font-size="7" fill="#a8a8a8" text-anchor="middle" >1</text>
<rect x="1061.7" y="693.1" width="5.4" height="5.2" fill="#ffffff"/>
<text x="1070.4" y="698.9" font-size="6.3" fill="#ffffff" text-anchor="start" font-weight="bold" textLength="46" lengthAdjust="spacingAndGlyphs">0640200UUR-Z0B-09</text>
<text x="1142.5" y="698.4" font-size="7.2" fill="#a8a8a8" text-anchor="middle" textLength="11.8" lengthAdjust="spacingAndGlyphs">挡板</text>
<text x="1173.0" y="698.4" font-size="7" fill="#a8a8a8" text-anchor="middle" >1</text>
<text x="1183.0" y="698.4" font-size="7" fill="#a8a8a8" text-anchor="start" textLength="12.3" lengthAdjust="spacingAndGlyphs">45钢</text>
<text x="1065.0" y="706.4" font-size="7" fill="#a8a8a8" text-anchor="middle" >15</text>
<text x="1071.5" y="707.0" font-size="6.6" fill="#9a9a9a" text-anchor="start" textLength="29.5" lengthAdjust="spacingAndGlyphs">GB/T119-86</text>
<text x="1142.5" y="706.6" font-size="7.2" fill="#a8a8a8" text-anchor="middle" textLength="11.8" lengthAdjust="spacingAndGlyphs">销柱</text>
<text x="1173.0" y="706.6" font-size="7" fill="#a8a8a8" text-anchor="middle" >2</text>
<text x="1183.0" y="706.6" font-size="7" fill="#a8a8a8" text-anchor="start" textLength="12.3" lengthAdjust="spacingAndGlyphs">45钢</text>
<text x="1065.0" y="714.6" font-size="7" fill="#a8a8a8" text-anchor="middle" >14</text>
<text x="1070.4" y="715.3" font-size="6.3" fill="#ffffff" text-anchor="start" font-weight="bold" textLength="46" lengthAdjust="spacingAndGlyphs">0640200UUR-Z0B-10</text>
<text x="1142.5" y="714.8" font-size="7.2" fill="#a8a8a8" text-anchor="middle" textLength="41.3" lengthAdjust="spacingAndGlyphs">大臂液压缸支座</text>
<text x="1173.0" y="714.8" font-size="7" fill="#a8a8a8" text-anchor="middle" >2</text>
<text x="1183.0" y="714.8" font-size="7" fill="#a8a8a8" text-anchor="start" textLength="16.0" lengthAdjust="spacingAndGlyphs">HT200</text>
<text x="1065.0" y="722.8" font-size="7" fill="#a8a8a8" text-anchor="middle" >13</text>
<text x="1071.5" y="723.4" font-size="6.6" fill="#9a9a9a" text-anchor="start" textLength="26.6" lengthAdjust="spacingAndGlyphs">GB/T77-85</text>
<text x="1142.5" y="723.0" font-size="7.2" fill="#a8a8a8" text-anchor="middle" textLength="42.8" lengthAdjust="spacingAndGlyphs">紧定螺钉M10X20</text>
<text x="1173.0" y="723.0" font-size="7" fill="#a8a8a8" text-anchor="middle" >8</text>
<text x="1183.0" y="723.0" font-size="7" fill="#a8a8a8" text-anchor="start" textLength="12.8" lengthAdjust="spacingAndGlyphs">Q215</text>
<text x="1065.0" y="731.0" font-size="7" fill="#a8a8a8" text-anchor="middle" >12</text>
<rect x="1072.0" y="726.5" width="31.0" height="4.2" fill="#ffffff"/>
<text x="1142.5" y="731.2" font-size="7.2" fill="#a8a8a8" text-anchor="middle" textLength="18.2" lengthAdjust="spacingAndGlyphs">垫圈16</text>
<text x="1173.0" y="731.2" font-size="7" fill="#a8a8a8" text-anchor="middle" >8</text>
<text x="1183.0" y="731.2" font-size="7" fill="#a8a8a8" text-anchor="start" textLength="12.8" lengthAdjust="spacingAndGlyphs">Q235</text>
<rect x="1061.7" y="734.1" width="5.4" height="5.2" fill="#ffffff"/>
<text x="1071.5" y="739.8" font-size="6.6" fill="#9a9a9a" text-anchor="start" textLength="35.4" lengthAdjust="spacingAndGlyphs">GB/T898-1988</text>
<text x="1142.5" y="739.4" font-size="7.2" fill="#a8a8a8" text-anchor="middle" textLength="31.0" lengthAdjust="spacingAndGlyphs">螺栓M10X48</text>
<text x="1173.0" y="739.4" font-size="7" fill="#a8a8a8" text-anchor="middle" >8</text>
<text x="1183.0" y="739.4" font-size="7" fill="#a8a8a8" text-anchor="start" textLength="12.8" lengthAdjust="spacingAndGlyphs">Q235</text>
<text x="1065.0" y="747.4" font-size="7" fill="#a8a8a8" text-anchor="middle" >10</text>
<text x="1071.5" y="748.0" font-size="6.6" fill="#9a9a9a" text-anchor="start" textLength="32.5" lengthAdjust="spacingAndGlyphs">GB/T97.1-85</text>
<rect x="1131.0" y="742.7" width="13.0" height="4.8" fill="#ffffff"/>
<text x="1173.0" y="747.6" font-size="7" fill="#a8a8a8" text-anchor="middle" >8</text>
<text x="1183.0" y="747.6" font-size="7" fill="#a8a8a8" text-anchor="start" textLength="12.8" lengthAdjust="spacingAndGlyphs">Q235</text>
<rect x="1061.7" y="750.5" width="5.4" height="5.2" fill="#ffffff"/>
<text x="1070.4" y="756.3" font-size="6.3" fill="#ffffff" text-anchor="start" font-weight="bold" textLength="46" lengthAdjust="spacingAndGlyphs">0640200UUR-Z0B-11</text>
<text x="1142.5" y="755.8" font-size="7.2" fill="#a8a8a8" text-anchor="middle" textLength="23.6" lengthAdjust="spacingAndGlyphs">回转平台</text>
<text x="1173.0" y="755.8" font-size="7" fill="#a8a8a8" text-anchor="middle" >1</text>
<text x="1183.0" y="755.8" font-size="7" fill="#a8a8a8" text-anchor="start" textLength="16.0" lengthAdjust="spacingAndGlyphs">HT200</text>
<rect x="1061.7" y="758.7" width="5.4" height="5.2" fill="#ffffff"/>
<text x="1071.5" y="764.4" font-size="6.6" fill="#9a9a9a" text-anchor="start" textLength="35.4" lengthAdjust="spacingAndGlyphs">GB/T276-1994</text>
<text x="1142.5" y="764.0" font-size="7.2" fill="#a8a8a8" text-anchor="middle" textLength="45.5" lengthAdjust="spacingAndGlyphs">推力球轴承51422</text>
<text x="1173.0" y="764.0" font-size="7" fill="#a8a8a8" text-anchor="middle" >1</text>
<text x="1183.0" y="764.0" font-size="7" fill="#a8a8a8" text-anchor="start" textLength="16.0" lengthAdjust="spacingAndGlyphs">GCr15</text>
<rect x="1061.7" y="767.0" width="5.4" height="5.2" fill="#ffffff"/>
<text x="1071.5" y="772.7" font-size="6.6" fill="#9a9a9a" text-anchor="start" textLength="35.4" lengthAdjust="spacingAndGlyphs">GB/T898-1988</text>
<text x="1142.5" y="772.3" font-size="7.2" fill="#a8a8a8" text-anchor="middle" textLength="31.0" lengthAdjust="spacingAndGlyphs">螺栓M12X42</text>
<text x="1173.0" y="772.3" font-size="7" fill="#a8a8a8" text-anchor="middle" >8</text>
<text x="1183.0" y="772.3" font-size="7" fill="#a8a8a8" text-anchor="start" textLength="12.8" lengthAdjust="spacingAndGlyphs">Q235</text>
<rect x="1061.7" y="775.2" width="5.4" height="5.2" fill="#ffffff"/>
<text x="1071.5" y="780.9" font-size="6.6" fill="#9a9a9a" text-anchor="start" textLength="38.4" lengthAdjust="spacingAndGlyphs">GB/T6170-2000</text>
<text x="1142.5" y="780.5" font-size="7.2" fill="#a8a8a8" text-anchor="middle" textLength="21.4" lengthAdjust="spacingAndGlyphs">螺母M12</text>
<text x="1173.0" y="780.5" font-size="7" fill="#a8a8a8" text-anchor="middle" >8</text>
<text x="1183.0" y="780.5" font-size="7" fill="#a8a8a8" text-anchor="start" textLength="12.8" lengthAdjust="spacingAndGlyphs">Q235</text>
<rect x="1061.7" y="783.4" width="5.4" height="5.2" fill="#ffffff"/>
<text x="1071.5" y="789.1" font-size="6.6" fill="#9a9a9a" text-anchor="start" textLength="32.5" lengthAdjust="spacingAndGlyphs">GB/T97.1-85</text>
<text x="1142.5" y="788.7" font-size="7.2" fill="#a8a8a8" text-anchor="middle" textLength="18.2" lengthAdjust="spacingAndGlyphs">垫圈12</text>
<text x="1173.0" y="788.7" font-size="7" fill="#a8a8a8" text-anchor="middle" >8</text>
<text x="1183.0" y="788.7" font-size="7" fill="#a8a8a8" text-anchor="start" textLength="12.8" lengthAdjust="spacingAndGlyphs">Q235</text>
<rect x="1061.7" y="791.6" width="5.4" height="5.2" fill="#ffffff"/>
<text x="1070.4" y="797.4" font-size="6.3" fill="#ffffff" text-anchor="start" font-weight="bold" textLength="46" lengthAdjust="spacingAndGlyphs">0640200UUR-Z0B-12</text>
<text x="1142.5" y="796.9" font-size="7.2" fill="#a8a8a8" text-anchor="middle" textLength="11.8" lengthAdjust="spacingAndGlyphs">箱盖</text>
<text x="1173.0" y="796.9" font-size="7" fill="#a8a8a8" text-anchor="middle" >1</text>
<text x="1183.0" y="796.9" font-size="7" fill="#a8a8a8" text-anchor="start" textLength="16.0" lengthAdjust="spacingAndGlyphs">HT200</text>
<rect x="1061.7" y="799.8" width="5.4" height="5.2" fill="#ffffff"/>
<text x="1071.5" y="805.5" font-size="6.6" fill="#9a9a9a" text-anchor="start" textLength="26.6" lengthAdjust="spacingAndGlyphs">GB/T77-85</text>
<text x="1142.5" y="805.1" font-size="7.2" fill="#a8a8a8" text-anchor="middle" textLength="42.8" lengthAdjust="spacingAndGlyphs">紧定螺钉M10X10</text>
<text x="1173.0" y="805.1" font-size="7" fill="#a8a8a8" text-anchor="middle" >4</text>
<text x="1183.0" y="805.1" font-size="7" fill="#a8a8a8" text-anchor="start" textLength="12.8" lengthAdjust="spacingAndGlyphs">Q215</text>
<rect x="1061.7" y="808.0" width="5.4" height="5.2" fill="#ffffff"/>
<text x="1071.5" y="813.7" font-size="6.6" fill="#9a9a9a" text-anchor="start" textLength="17.7" lengthAdjust="spacingAndGlyphs">YMC-40</text>
<text x="1142.5" y="813.3" font-size="7.2" fill="#a8a8a8" text-anchor="middle" textLength="35.4" lengthAdjust="spacingAndGlyphs">摆线液压马达</text>
<text x="1173.0" y="813.3" font-size="7" fill="#a8a8a8" text-anchor="middle" >1</text>
<rect x="1061.7" y="816.2" width="5.4" height="5.2" fill="#ffffff"/>
<text x="1070.4" y="822.0" font-size="6.3" fill="#ffffff" text-anchor="start" font-weight="bold" textLength="46" lengthAdjust="spacingAndGlyphs">06402UUR-Z00-00</text>
<text x="1142.5" y="821.5" font-size="7.2" fill="#a8a8a8" text-anchor="middle" textLength="11.8" lengthAdjust="spacingAndGlyphs">箱座</text>
<text x="1173.0" y="821.5" font-size="7" fill="#a8a8a8" text-anchor="middle" >1</text>
<text x="1183.0" y="821.5" font-size="7" fill="#a8a8a8" text-anchor="start" textLength="16.0" lengthAdjust="spacingAndGlyphs">HT200</text>
<line x1="1060.5" y1="838.1" x2="1271.0" y2="838.1" stroke="#ffffff" stroke-width="1.6"/>
<rect x="1062.3" y="825.6" width="5.5" height="3.8" fill="#ffffff" stroke="#ffffff" stroke-width="0"/>
<rect x="1062.3" y="831.6" width="5.5" height="4.2" fill="#ffffff" stroke="#ffffff" stroke-width="0"/>
<rect x="1086.0" y="829.3" width="12.0" height="4.0" fill="#ffffff"/>
<rect x="1136.0" y="829.3" width="13.0" height="4.0" fill="#ffffff"/>
<rect x="1170.3" y="825.8" width="5.5" height="3.8" fill="#ffffff" stroke="#ffffff" stroke-width="0"/>
<rect x="1170.3" y="831.8" width="5.5" height="4.0" fill="#ffffff" stroke="#ffffff" stroke-width="0"/>
<rect x="1194.0" y="828.8" width="11.0" height="4.5" fill="#ffffff"/>
<line x1="1222.5" y1="830.4" x2="1247.6" y2="830.4" stroke="#ffffff" stroke-width="1.4"/>
<rect x="1224.0" y="825.1" width="8.0" height="4.0" fill="#ffffff"/>
<rect x="1236.0" y="825.1" width="9.0" height="4.0" fill="#ffffff"/>
<rect x="1230.0" y="832.8" width="8.0" height="3.8" fill="#ffffff"/>
<rect x="1254.0" y="829.3" width="11.0" height="4.0" fill="#ffffff"/>
<line x1="1060.5" y1="838.1" x2="1154.3" y2="838.1" stroke="#ffffff" stroke-width="1.6"/>
<line x1="1060.5" y1="847.8" x2="1154.3" y2="847.8" stroke="#ffffff" stroke-width="1.6"/>
<line x1="1060.5" y1="855.4" x2="1154.3" y2="855.4" stroke="#ffffff" stroke-width="1.6"/>
<line x1="1060.5" y1="864.0" x2="1154.3" y2="864.0" stroke="#ffffff" stroke-width="1.6"/>
<line x1="1060.5" y1="871.6" x2="1154.3" y2="871.6" stroke="#ffffff" stroke-width="1.6"/>
<line x1="1060.5" y1="879.3" x2="1154.3" y2="879.3" stroke="#ffffff" stroke-width="1.6"/>
<line x1="1060.5" y1="887.0" x2="1154.3" y2="887.0" stroke="#ffffff" stroke-width="1.6"/>
<line x1="1061.0" y1="838.1" x2="1061.0" y2="890.0" stroke="#ffffff" stroke-width="1.6"/>
<line x1="1072.0" y1="838.1" x2="1072.0" y2="890.0" stroke="#ffffff" stroke-width="1.6"/>
<line x1="1083.1" y1="838.1" x2="1083.1" y2="890.0" stroke="#ffffff" stroke-width="1.6"/>
<line x1="1095.4" y1="838.1" x2="1095.4" y2="890.0" stroke="#ffffff" stroke-width="1.6"/>
<line x1="1121.2" y1="838.1" x2="1121.2" y2="890.0" stroke="#ffffff" stroke-width="1.6"/>
<line x1="1135.2" y1="838.1" x2="1135.2" y2="890.0" stroke="#ffffff" stroke-width="1.6"/>
<line x1="1154.3" y1="838.1" x2="1154.3" y2="890.0" stroke="#ffffff" stroke-width="1.6"/>
<line x1="1154.3" y1="838.1" x2="1154.3" y2="890.0" stroke="#ffffff" stroke-width="1.6"/>
<line x1="1212.3" y1="838.1" x2="1212.3" y2="890.0" stroke="#ffffff" stroke-width="1.6"/>
<line x1="1271.0" y1="838.1" x2="1271.0" y2="890.0" stroke="#ffffff" stroke-width="1.6"/>
<line x1="1154.3" y1="870.8" x2="1212.3" y2="870.8" stroke="#ffffff" stroke-width="1.6"/>
<line x1="1154.3" y1="883.2" x2="1212.3" y2="883.2" stroke="#ffffff" stroke-width="1.6"/>
<line x1="1183.8" y1="870.8" x2="1183.8" y2="890.0" stroke="#ffffff" stroke-width="1.6"/>
<line x1="1198.3" y1="870.8" x2="1198.3" y2="890.0" stroke="#ffffff" stroke-width="1.6"/>
<line x1="1212.3" y1="860.0" x2="1271.0" y2="860.0" stroke="#ffffff" stroke-width="1.6"/>
<line x1="1212.3" y1="883.6" x2="1271.0" y2="883.6" stroke="#ffffff" stroke-width="1.6"/>
<rect x="1062.5" y="866.2" width="8.0" height="4.0" fill="#ffffff"/>
<rect x="1073.0" y="866.2" width="9.0" height="4.0" fill="#ffffff"/>
<rect x="1084.5" y="866.2" width="9.5" height="4.0" fill="#ffffff"/>
<rect x="1097.0" y="866.2" width="22.5" height="4.0" fill="#ffffff"/>
<rect x="1122.5" y="866.2" width="11.0" height="4.0" fill="#ffffff"/>
<rect x="1137.0" y="866.2" width="15.5" height="4.0" fill="#ffffff"/>
<rect x="1062.5" y="873.6" width="8.0" height="4.5" fill="#ffffff"/>
<rect x="1073.0" y="873.6" width="80.0" height="3.2" fill="#ffffff"/>
<rect x="1062.5" y="881.2" width="8.0" height="4.5" fill="#ffffff"/>
<rect x="1160.0" y="875.0" width="22.0" height="4.0" fill="#ffffff"/>
<rect x="1186.0" y="876.0" width="9.0" height="4.0" fill="#ffffff"/>
<rect x="1200.0" y="876.0" width="9.0" height="4.0" fill="#ffffff"/>
<text x="1241.5" y="875.8" font-size="7.8" fill="#a8a8a8" text-anchor="middle" textLength="54.5" lengthAdjust="spacingAndGlyphs">喷漆机器人装配图</text>
<text x="1201.0" y="889.5" font-size="6.5" fill="#a8a8a8" text-anchor="start" >1:4</text>
<line x1="1160.8" y1="883.2" x2="1160.8" y2="890.0" stroke="#ffffff" stroke-width="1.4"/>
<line x1="1168.4" y1="883.2" x2="1168.4" y2="890.0" stroke="#ffffff" stroke-width="1.4"/>
<line x1="1177.8" y1="883.2" x2="1177.8" y2="890.0" stroke="#ffffff" stroke-width="1.4"/>
</g>
<text x="750.5" y="716.5" font-size="7.2" fill="#c4c4c4" text-anchor="start" textLength="26.5" lengthAdjust="spacingAndGlyphs">技术要求</text>
<rect x="736.0" y="716.0" width="3.0" height="1.2" fill="#c4c4c4"/>
<text x="735.7" y="724.5" font-size="7.2" fill="#c4c4c4" text-anchor="start" textLength="170.0" lengthAdjust="spacingAndGlyphs">1.装配前，所有零件用煤油清洗，不允许有任何杂物存在。</text>
<text x="735.7" y="732.1" font-size="7.2" fill="#c4c4c4" text-anchor="start" textLength="130.7" lengthAdjust="spacingAndGlyphs">2.调节螺母，使弹簧松紧程度达到平衡要求。</text>
<text x="735.7" y="739.7" font-size="7.2" fill="#c4c4c4" text-anchor="start" textLength="217.2" lengthAdjust="spacingAndGlyphs">3.滚珠丝杠螺母采用双螺母预紧，垫片调整间隙，滚珠丝杠升用防护罩防尘。</text>
<text x="735.7" y="747.3" font-size="7.2" fill="#c4c4c4" text-anchor="start" textLength="90.4" lengthAdjust="spacingAndGlyphs">4.机体内定期加 ZL-1 润滑脂。</text>
<text x="735.7" y="754.9" font-size="7.2" fill="#c4c4c4" text-anchor="start" textLength="76.7" lengthAdjust="spacingAndGlyphs">5.机器人外部涂绿色油漆。</text>
</svg></body></html>
